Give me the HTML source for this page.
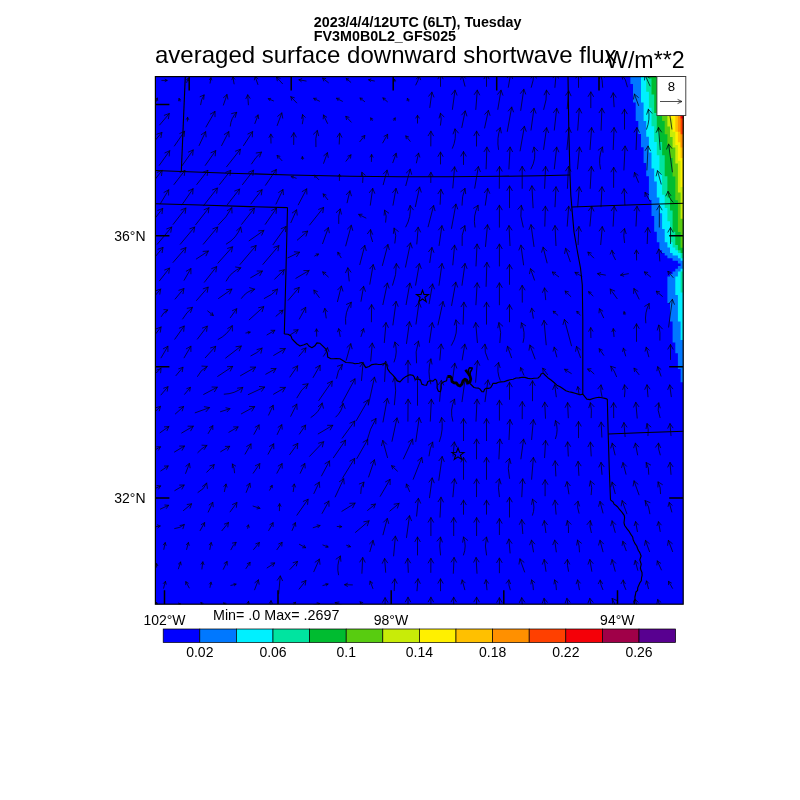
<!DOCTYPE html>
<html lang="en"><head><meta charset="utf-8"><title>averaged surface downward shortwave flux</title>
<style>html,body{margin:0;padding:0;background:#fff;}svg{display:block;}</style></head>
<body>
<svg width="800" height="800" viewBox="0 0 800 800" font-family="'Liberation Sans', Arial, sans-serif">
<rect x="0" y="0" width="800" height="800" fill="#ffffff"/>
<rect x="155.4" y="76.6" width="527.8000000000001" height="527.6" fill="#0000ff"/>
<clipPath id="mapclip"><rect x="155.4" y="76.6" width="527.8000000000001" height="527.6"/></clipPath>
<g clip-path="url(#mapclip)">
<polygon fill="#0078ff" points="690.0,74.0 630.4,74.0 630.4,76.0 630.4,78.6 630.4,78.6 630.4,81.3 630.4,81.3 630.4,83.9 633.0,83.9 633.0,86.6 633.0,86.6 633.0,89.2 633.0,89.2 633.0,91.8 633.0,91.8 633.0,94.5 633.0,94.5 633.0,97.1 633.0,97.1 633.0,99.8 633.0,99.8 633.0,102.4 635.7,102.4 635.7,105.0 635.7,105.0 635.7,107.7 635.7,107.7 635.7,110.3 635.7,110.3 635.7,113.0 635.7,113.0 635.7,115.6 635.7,115.6 635.7,118.2 635.7,118.2 635.7,120.9 638.3,120.9 638.3,123.5 638.3,123.5 638.3,126.2 638.3,126.2 638.3,128.8 638.3,128.8 638.3,131.4 638.3,131.4 638.3,134.1 641.0,134.1 641.0,136.7 641.0,136.7 641.0,139.4 641.0,139.4 641.0,142.0 641.0,142.0 641.0,144.6 641.0,144.6 641.0,147.3 643.6,147.3 643.6,149.9 643.6,149.9 643.6,152.6 643.6,152.6 643.6,155.2 643.6,155.2 643.6,157.8 643.6,157.8 643.6,160.5 643.6,160.5 643.6,163.1 646.2,163.1 646.2,165.8 646.2,165.8 646.2,168.4 646.2,168.4 646.2,171.0 646.2,171.0 646.2,173.7 646.2,173.7 646.2,176.3 648.9,176.3 648.9,179.0 648.9,179.0 648.9,181.6 648.9,181.6 648.9,184.2 648.9,184.2 648.9,186.9 648.9,186.9 648.9,189.5 648.9,189.5 648.9,192.2 648.9,192.2 648.9,194.8 648.9,194.8 648.9,197.4 648.9,197.4 648.9,200.1 651.5,200.1 651.5,202.7 651.5,202.7 651.5,205.4 651.5,205.4 651.5,208.0 651.5,208.0 651.5,210.6 651.5,210.6 651.5,213.3 651.5,213.3 651.5,215.9 654.2,215.9 654.2,218.6 654.2,218.6 654.2,221.2 654.2,221.2 654.2,223.8 654.2,223.8 654.2,226.5 654.2,226.5 654.2,229.1 654.2,229.1 654.2,231.8 656.8,231.8 656.8,234.4 656.8,234.4 656.8,237.0 656.8,237.0 656.8,239.7 656.8,239.7 656.8,242.3 659.4,242.3 659.4,245.0 659.4,245.0 659.4,247.6 659.4,247.6 659.4,250.2 662.1,250.2 662.1,252.9 664.7,252.9 664.7,255.5 667.4,255.5 667.4,258.2 672.6,258.2 672.6,260.8 677.9,260.8 677.9,263.4 680.6,263.4 680.6,266.1 677.9,266.1 677.9,268.7 675.3,268.7 675.3,271.4 672.6,271.4 672.6,274.0 670.0,274.0 670.0,276.6 667.4,276.6 667.4,279.3 667.4,279.3 667.4,281.9 667.4,281.9 667.4,284.6 667.4,284.6 667.4,287.2 667.4,287.2 667.4,289.8 667.4,289.8 667.4,292.5 667.4,292.5 667.4,295.1 667.4,295.1 667.4,297.8 667.4,297.8 667.4,300.4 667.4,300.4 667.4,303.0 670.0,303.0 670.0,305.7 670.0,305.7 670.0,308.3 670.0,308.3 670.0,311.0 670.0,311.0 670.0,313.6 670.0,313.6 670.0,316.2 670.0,316.2 670.0,318.9 670.0,318.9 670.0,321.5 672.6,321.5 672.6,324.2 672.6,324.2 672.6,326.8 672.6,326.8 672.6,329.4 672.6,329.4 672.6,332.1 672.6,332.1 672.6,334.7 672.6,334.7 672.6,337.4 672.6,337.4 672.6,340.0 672.6,340.0 672.6,342.6 675.3,342.6 675.3,345.3 675.3,345.3 675.3,347.9 675.3,347.9 675.3,350.6 675.3,350.6 675.3,353.2 677.9,353.2 677.9,355.8 677.9,355.8 677.9,358.5 677.9,358.5 677.9,361.1 677.9,361.1 677.9,363.8 677.9,363.8 677.9,366.4 677.9,366.4 677.9,369.0 680.6,369.0 680.6,371.7 680.6,371.7 680.6,374.3 680.6,374.3 680.6,377.0 680.6,377.0 680.6,379.6 680.6,379.6 680.6,382.2 683.2,382.2 683.2,384.9 683.2,384.9 683.2,387.5 683.2,387.5 683.2,390.2 690.0,390.2"/>
<polygon fill="#00f0ff" points="690.0,74.0 641.0,74.0 641.0,76.0 641.0,78.6 641.0,78.6 641.0,81.3 641.0,81.3 641.0,83.9 641.0,83.9 641.0,86.6 641.0,86.6 641.0,89.2 641.0,89.2 641.0,91.8 641.0,91.8 641.0,94.5 641.0,94.5 641.0,97.1 641.0,97.1 641.0,99.8 641.0,99.8 641.0,102.4 643.6,102.4 643.6,105.0 643.6,105.0 643.6,107.7 643.6,107.7 643.6,110.3 643.6,110.3 643.6,113.0 643.6,113.0 643.6,115.6 643.6,115.6 643.6,118.2 643.6,118.2 643.6,120.9 646.2,120.9 646.2,123.5 646.2,123.5 646.2,126.2 646.2,126.2 646.2,128.8 646.2,128.8 646.2,131.4 646.2,131.4 646.2,134.1 646.2,134.1 646.2,136.7 648.9,136.7 648.9,139.4 648.9,139.4 648.9,142.0 648.9,142.0 648.9,144.6 648.9,144.6 648.9,147.3 648.9,147.3 648.9,149.9 648.9,149.9 648.9,152.6 651.5,152.6 651.5,155.2 651.5,155.2 651.5,157.8 651.5,157.8 651.5,160.5 651.5,160.5 651.5,163.1 651.5,163.1 651.5,165.8 651.5,165.8 651.5,168.4 654.2,168.4 654.2,171.0 654.2,171.0 654.2,173.7 654.2,173.7 654.2,176.3 654.2,176.3 654.2,179.0 654.2,179.0 654.2,181.6 656.8,181.6 656.8,184.2 656.8,184.2 656.8,186.9 656.8,186.9 656.8,189.5 656.8,189.5 656.8,192.2 656.8,192.2 656.8,194.8 656.8,194.8 656.8,197.4 659.4,197.4 659.4,200.1 659.4,200.1 659.4,202.7 659.4,202.7 659.4,205.4 659.4,205.4 659.4,208.0 659.4,208.0 659.4,210.6 659.4,210.6 659.4,213.3 662.1,213.3 662.1,215.9 662.1,215.9 662.1,218.6 662.1,218.6 662.1,221.2 662.1,221.2 662.1,223.8 662.1,223.8 662.1,226.5 662.1,226.5 662.1,229.1 664.7,229.1 664.7,231.8 664.7,231.8 664.7,234.4 664.7,234.4 664.7,237.0 664.7,237.0 664.7,239.7 664.7,239.7 664.7,242.3 667.4,242.3 667.4,245.0 667.4,245.0 667.4,247.6 670.0,247.6 670.0,250.2 670.0,250.2 670.0,252.9 672.6,252.9 672.6,255.5 677.9,255.5 677.9,258.2 680.6,258.2 680.6,260.8 683.2,260.8 683.2,263.4 683.2,263.4 683.2,266.1 683.2,266.1 683.2,268.7 680.6,268.7 680.6,271.4 677.9,271.4 677.9,274.0 677.9,274.0 677.9,276.6 675.3,276.6 675.3,279.3 675.3,279.3 675.3,281.9 675.3,281.9 675.3,284.6 675.3,284.6 675.3,287.2 675.3,287.2 675.3,289.8 675.3,289.8 675.3,292.5 675.3,292.5 675.3,295.1 677.9,295.1 677.9,297.8 677.9,297.8 677.9,300.4 677.9,300.4 677.9,303.0 677.9,303.0 677.9,305.7 677.9,305.7 677.9,308.3 677.9,308.3 677.9,311.0 677.9,311.0 677.9,313.6 677.9,313.6 677.9,316.2 677.9,316.2 677.9,318.9 677.9,318.9 677.9,321.5 680.6,321.5 680.6,324.2 680.6,324.2 680.6,326.8 680.6,326.8 680.6,329.4 680.6,329.4 680.6,332.1 680.6,332.1 680.6,334.7 680.6,334.7 680.6,337.4 680.6,337.4 680.6,340.0 683.2,340.0 683.2,342.6 683.2,342.6 683.2,345.3 690.0,345.3"/>
<polygon fill="#00e4a0" points="690.0,74.0 646.2,74.0 646.2,76.0 646.2,78.6 646.2,78.6 646.2,81.3 646.2,81.3 646.2,83.9 646.2,83.9 646.2,86.6 646.2,86.6 646.2,89.2 646.2,89.2 646.2,91.8 648.9,91.8 648.9,94.5 648.9,94.5 648.9,97.1 648.9,97.1 648.9,99.8 648.9,99.8 648.9,102.4 648.9,102.4 648.9,105.0 648.9,105.0 648.9,107.7 651.5,107.7 651.5,110.3 651.5,110.3 651.5,113.0 651.5,113.0 651.5,115.6 651.5,115.6 651.5,118.2 651.5,118.2 651.5,120.9 651.5,120.9 651.5,123.5 651.5,123.5 651.5,126.2 654.2,126.2 654.2,128.8 654.2,128.8 654.2,131.4 654.2,131.4 654.2,134.1 654.2,134.1 654.2,136.7 654.2,136.7 654.2,139.4 654.2,139.4 654.2,142.0 656.8,142.0 656.8,144.6 656.8,144.6 656.8,147.3 656.8,147.3 656.8,149.9 656.8,149.9 656.8,152.6 656.8,152.6 656.8,155.2 659.4,155.2 659.4,157.8 659.4,157.8 659.4,160.5 659.4,160.5 659.4,163.1 659.4,163.1 659.4,165.8 659.4,165.8 659.4,168.4 659.4,168.4 659.4,171.0 659.4,171.0 659.4,173.7 662.1,173.7 662.1,176.3 662.1,176.3 662.1,179.0 662.1,179.0 662.1,181.6 662.1,181.6 662.1,184.2 662.1,184.2 662.1,186.9 662.1,186.9 662.1,189.5 662.1,189.5 662.1,192.2 662.1,192.2 662.1,194.8 664.7,194.8 664.7,197.4 664.7,197.4 664.7,200.1 664.7,200.1 664.7,202.7 664.7,202.7 664.7,205.4 664.7,205.4 664.7,208.0 667.4,208.0 667.4,210.6 667.4,210.6 667.4,213.3 667.4,213.3 667.4,215.9 667.4,215.9 667.4,218.6 667.4,218.6 667.4,221.2 670.0,221.2 670.0,223.8 670.0,223.8 670.0,226.5 670.0,226.5 670.0,229.1 670.0,229.1 670.0,231.8 670.0,231.8 670.0,234.4 670.0,234.4 670.0,237.0 670.0,237.0 670.0,239.7 670.0,239.7 670.0,242.3 672.6,242.3 672.6,245.0 672.6,245.0 672.6,247.6 675.3,247.6 675.3,250.2 677.9,250.2 677.9,252.9 680.6,252.9 680.6,255.5 680.6,255.5 680.6,258.2 683.2,258.2 683.2,260.8 683.2,260.8 683.2,263.4 683.2,263.4 683.2,266.1 683.2,266.1 683.2,268.7 683.2,268.7 683.2,271.4 680.6,271.4 680.6,274.0 680.6,274.0 680.6,276.6 680.6,276.6 680.6,279.3 680.6,279.3 680.6,281.9 680.6,281.9 680.6,284.6 680.6,284.6 680.6,287.2 680.6,287.2 680.6,289.8 680.6,289.8 680.6,292.5 683.2,292.5 683.2,295.1 690.0,295.1"/>
<polygon fill="#00bc30" points="690.0,74.0 648.9,74.0 648.9,76.0 648.9,78.6 651.5,78.6 651.5,81.3 651.5,81.3 651.5,83.9 651.5,83.9 651.5,86.6 651.5,86.6 651.5,89.2 651.5,89.2 651.5,91.8 651.5,91.8 651.5,94.5 654.2,94.5 654.2,97.1 654.2,97.1 654.2,99.8 654.2,99.8 654.2,102.4 654.2,102.4 654.2,105.0 654.2,105.0 654.2,107.7 654.2,107.7 654.2,110.3 654.2,110.3 654.2,113.0 656.8,113.0 656.8,115.6 656.8,115.6 656.8,118.2 656.8,118.2 656.8,120.9 656.8,120.9 656.8,123.5 656.8,123.5 656.8,126.2 656.8,126.2 656.8,128.8 656.8,128.8 656.8,131.4 659.4,131.4 659.4,134.1 659.4,134.1 659.4,136.7 659.4,136.7 659.4,139.4 659.4,139.4 659.4,142.0 662.1,142.0 662.1,144.6 662.1,144.6 662.1,147.3 662.1,147.3 662.1,149.9 662.1,149.9 662.1,152.6 662.1,152.6 662.1,155.2 664.7,155.2 664.7,157.8 664.7,157.8 664.7,160.5 664.7,160.5 664.7,163.1 664.7,163.1 664.7,165.8 664.7,165.8 664.7,168.4 664.7,168.4 664.7,171.0 664.7,171.0 664.7,173.7 664.7,173.7 664.7,176.3 667.4,176.3 667.4,179.0 667.4,179.0 667.4,181.6 667.4,181.6 667.4,184.2 667.4,184.2 667.4,186.9 667.4,186.9 667.4,189.5 667.4,189.5 667.4,192.2 667.4,192.2 667.4,194.8 667.4,194.8 667.4,197.4 670.0,197.4 670.0,200.1 670.0,200.1 670.0,202.7 670.0,202.7 670.0,205.4 670.0,205.4 670.0,208.0 670.0,208.0 670.0,210.6 672.6,210.6 672.6,213.3 672.6,213.3 672.6,215.9 672.6,215.9 672.6,218.6 672.6,218.6 672.6,221.2 672.6,221.2 672.6,223.8 672.6,223.8 672.6,226.5 672.6,226.5 672.6,229.1 672.6,229.1 672.6,231.8 675.3,231.8 675.3,234.4 675.3,234.4 675.3,237.0 675.3,237.0 675.3,239.7 675.3,239.7 675.3,242.3 675.3,242.3 675.3,245.0 677.9,245.0 677.9,247.6 677.9,247.6 677.9,250.2 680.6,250.2 680.6,252.9 683.2,252.9 683.2,255.5 683.2,255.5 683.2,258.2 690.0,258.2"/>
<polygon fill="#58cc10" points="690.0,98.0 659.4,98.0 659.4,100.0 659.4,102.6 659.4,102.6 659.4,105.3 662.1,105.3 662.1,107.9 662.1,107.9 662.1,110.6 662.1,110.6 662.1,113.2 662.1,113.2 662.1,115.8 662.1,115.8 662.1,118.5 662.1,118.5 662.1,121.1 664.7,121.1 664.7,123.8 664.7,123.8 664.7,126.4 664.7,126.4 664.7,129.0 664.7,129.0 664.7,131.7 664.7,131.7 664.7,134.3 667.4,134.3 667.4,137.0 667.4,137.0 667.4,139.6 667.4,139.6 667.4,142.2 667.4,142.2 667.4,144.9 670.0,144.9 670.0,147.5 670.0,147.5 670.0,150.2 670.0,150.2 670.0,152.8 670.0,152.8 670.0,155.4 670.0,155.4 670.0,158.1 672.6,158.1 672.6,160.7 672.6,160.7 672.6,163.4 672.6,163.4 672.6,166.0 672.6,166.0 672.6,168.6 672.6,168.6 672.6,171.3 672.6,171.3 672.6,173.9 672.6,173.9 672.6,176.6 675.3,176.6 675.3,179.2 675.3,179.2 675.3,181.8 675.3,181.8 675.3,184.5 675.3,184.5 675.3,187.1 675.3,187.1 675.3,189.8 675.3,189.8 675.3,192.4 675.3,192.4 675.3,195.0 675.3,195.0 675.3,197.7 675.3,197.7 675.3,200.3 677.9,200.3 677.9,203.0 677.9,203.0 677.9,205.6 677.9,205.6 677.9,208.2 677.9,208.2 677.9,210.9 677.9,210.9 677.9,213.5 677.9,213.5 677.9,216.2 677.9,216.2 677.9,218.8 677.9,218.8 677.9,221.4 677.9,221.4 677.9,224.1 677.9,224.1 677.9,226.7 677.9,226.7 677.9,229.4 677.9,229.4 677.9,232.0 680.6,232.0 680.6,234.6 680.6,234.6 680.6,237.3 680.6,237.3 680.6,239.9 680.6,239.9 680.6,242.6 680.6,242.6 680.6,245.2 680.6,245.2 680.6,247.8 683.2,247.8 683.2,250.5 690.0,250.5"/>
<polygon fill="#c8ec08" points="690.0,98.0 664.7,98.0 664.7,100.0 664.7,102.6 664.7,102.6 664.7,105.3 664.7,105.3 664.7,107.9 664.7,107.9 664.7,110.6 664.7,110.6 664.7,113.2 664.7,113.2 664.7,115.8 667.4,115.8 667.4,118.5 667.4,118.5 667.4,121.1 667.4,121.1 667.4,123.8 667.4,123.8 667.4,126.4 670.0,126.4 670.0,129.0 670.0,129.0 670.0,131.7 670.0,131.7 670.0,134.3 670.0,134.3 670.0,137.0 672.6,137.0 672.6,139.6 672.6,139.6 672.6,142.2 672.6,142.2 672.6,144.9 672.6,144.9 672.6,147.5 675.3,147.5 675.3,150.2 675.3,150.2 675.3,152.8 675.3,152.8 675.3,155.4 675.3,155.4 675.3,158.1 675.3,158.1 675.3,160.7 675.3,160.7 675.3,163.4 677.9,163.4 677.9,166.0 677.9,166.0 677.9,168.6 677.9,168.6 677.9,171.3 677.9,171.3 677.9,173.9 677.9,173.9 677.9,176.6 677.9,176.6 677.9,179.2 677.9,179.2 677.9,181.8 677.9,181.8 677.9,184.5 677.9,184.5 677.9,187.1 677.9,187.1 677.9,189.8 677.9,189.8 677.9,192.4 680.6,192.4 680.6,195.0 680.6,195.0 680.6,197.7 680.6,197.7 680.6,200.3 680.6,200.3 680.6,203.0 680.6,203.0 680.6,205.6 680.6,205.6 680.6,208.2 680.6,208.2 680.6,210.9 680.6,210.9 680.6,213.5 680.6,213.5 680.6,216.2 680.6,216.2 680.6,218.8 683.2,218.8 683.2,221.4 683.2,221.4 683.2,224.1 683.2,224.1 683.2,226.7 690.0,226.7"/>
<polygon fill="#fff000" points="690.0,98.0 667.4,98.0 667.4,100.0 667.4,102.6 670.0,102.6 670.0,105.3 670.0,105.3 670.0,107.9 670.0,107.9 670.0,110.6 670.0,110.6 670.0,113.2 670.0,113.2 670.0,115.8 670.0,115.8 670.0,118.5 672.6,118.5 672.6,121.1 672.6,121.1 672.6,123.8 672.6,123.8 672.6,126.4 672.6,126.4 672.6,129.0 672.6,129.0 672.6,131.7 675.3,131.7 675.3,134.3 675.3,134.3 675.3,137.0 675.3,137.0 675.3,139.6 675.3,139.6 675.3,142.2 675.3,142.2 675.3,144.9 677.9,144.9 677.9,147.5 677.9,147.5 677.9,150.2 677.9,150.2 677.9,152.8 677.9,152.8 677.9,155.4 677.9,155.4 677.9,158.1 677.9,158.1 677.9,160.7 680.6,160.7 680.6,163.4 680.6,163.4 680.6,166.0 680.6,166.0 680.6,168.6 680.6,168.6 680.6,171.3 680.6,171.3 680.6,173.9 680.6,173.9 680.6,176.6 680.6,176.6 680.6,179.2 680.6,179.2 680.6,181.8 680.6,181.8 680.6,184.5 680.6,184.5 680.6,187.1 683.2,187.1 683.2,189.8 683.2,189.8 683.2,192.4 683.2,192.4 683.2,195.0 683.2,195.0 683.2,197.7 683.2,197.7 683.2,200.3 690.0,200.3"/>
<polygon fill="#ffc000" points="690.0,98.0 670.0,98.0 670.0,100.0 670.0,102.6 672.6,102.6 672.6,105.3 672.6,105.3 672.6,107.9 672.6,107.9 672.6,110.6 672.6,110.6 672.6,113.2 672.6,113.2 672.6,115.8 675.3,115.8 675.3,118.5 675.3,118.5 675.3,121.1 675.3,121.1 675.3,123.8 675.3,123.8 675.3,126.4 675.3,126.4 675.3,129.0 675.3,129.0 675.3,131.7 677.9,131.7 677.9,134.3 677.9,134.3 677.9,137.0 677.9,137.0 677.9,139.6 677.9,139.6 677.9,142.2 680.6,142.2 680.6,144.9 680.6,144.9 680.6,147.5 680.6,147.5 680.6,150.2 680.6,150.2 680.6,152.8 680.6,152.8 680.6,155.4 680.6,155.4 680.6,158.1 683.2,158.1 683.2,160.7 683.2,160.7 683.2,163.4 683.2,163.4 683.2,166.0 683.2,166.0 683.2,168.6 683.2,168.6 683.2,171.3 690.0,171.3"/>
<polygon fill="#ff9000" points="690.0,98.0 675.3,98.0 675.3,100.0 675.3,102.6 675.3,102.6 675.3,105.3 675.3,105.3 675.3,107.9 675.3,107.9 675.3,110.6 675.3,110.6 675.3,113.2 675.3,113.2 675.3,115.8 677.9,115.8 677.9,118.5 677.9,118.5 677.9,121.1 677.9,121.1 677.9,123.8 677.9,123.8 677.9,126.4 677.9,126.4 677.9,129.0 677.9,129.0 677.9,131.7 680.6,131.7 680.6,134.3 680.6,134.3 680.6,137.0 680.6,137.0 680.6,139.6 680.6,139.6 680.6,142.2 680.6,142.2 680.6,144.9 680.6,144.9 680.6,147.5 683.2,147.5 683.2,150.2 683.2,150.2 683.2,152.8 683.2,152.8 683.2,155.4 690.0,155.4"/>
<polygon fill="#ff4000" points="690.0,98.0 677.9,98.0 677.9,100.0 677.9,102.6 677.9,102.6 677.9,105.3 677.9,105.3 677.9,107.9 677.9,107.9 677.9,110.6 677.9,110.6 677.9,113.2 677.9,113.2 677.9,115.8 680.6,115.8 680.6,118.5 680.6,118.5 680.6,121.1 680.6,121.1 680.6,123.8 680.6,123.8 680.6,126.4 680.6,126.4 680.6,129.0 680.6,129.0 680.6,131.7 680.6,131.7 680.6,134.3 683.2,134.3 683.2,137.0 683.2,137.0 683.2,139.6 683.2,139.6 683.2,142.2 690.0,142.2"/>
<polygon fill="#f40008" points="690.0,98.0 680.6,98.0 680.6,100.0 680.6,102.6 680.6,102.6 680.6,105.3 680.6,105.3 680.6,107.9 680.6,107.9 680.6,110.6 680.6,110.6 680.6,113.2 680.6,113.2 680.6,115.8 680.6,115.8 680.6,118.5 683.2,118.5 683.2,121.1 683.2,121.1 683.2,123.8 683.2,123.8 683.2,126.4 683.2,126.4 683.2,129.0 690.0,129.0"/>
<polyline fill="none" stroke="#000" stroke-width="1.1" stroke-linejoin="round" points="185.3,76 181.3,171.5"/>
<polyline fill="none" stroke="#000" stroke-width="1.1" stroke-linejoin="round" points="155,170.5 181.3,171.5 230,173.2 290,175 350,176.3 400,176.8 450,176.8 500,176.3 540,175.7 570,175"/>
<polyline fill="none" stroke="#000" stroke-width="1.1" stroke-linejoin="round" points="155,203.7 200,205 250,206.6 287.5,207.6"/>
<polyline fill="none" stroke="#000" stroke-width="1.1" stroke-linejoin="round" points="287.5,207.6 286,270 284.3,334"/>
<polyline fill="none" stroke="#000" stroke-width="1.15" stroke-linejoin="round" points="284.3,334 288.0,334.3 291.0,336.0 292.0,338.8 294.0,341.0 297.0,344.0 300.0,346.0 304.0,344.8 307.0,343.5 308.9,346.0 311.9,347.7 314.9,345.8 316.9,342.9 320.0,343.3 322.9,346.1 325.9,349.1 327.3,352.9 327.7,357.1 330.9,358.7 333.5,358.7 336.0,358.6 340.0,358.8 343.2,360.8 346.0,362.5 350.0,362.7 352.6,363.0 355.0,363.8 359.0,363.2 362.0,362.5 364.0,365.0 365.8,367.6 369.0,366.5 372.0,364.6 376.0,364.0 378.5,364.5 381.0,364.5 385.0,363.4 386.8,365.2 387.7,369.1 389.8,372.1 392.9,375.1 395.1,377.9 397.1,380.9 400.0,381.9 402.8,378.8 405.1,377.1 408.0,375.4 410.1,374.7 413.0,375.4 414.3,377.2 414.8,379.1 418.0,379.2 420.5,379.8 421.8,384.1 424.0,385.0 426.5,385.3 427.9,381.5 429.9,380.8 433.0,381.1 435.1,379.1 436.6,380.4 437.2,384.0 437.1,388.0 438.3,391.1 440.5,391.7 441.3,387.9 441.1,385.8 441.3,383.5 443.9,381.8 446.6,380.7 447.3,376.5"/>
<polyline fill="none" stroke="#000" stroke-width="2.8" stroke-linejoin="round" points="447.5,376.5 450,376.3 451.5,377.8 452,381.5 454,382.8 456.5,383 458,385.3 460,386 462,384 463,380.8 465,379.2 466.5,380 468,383 470,382 470.8,379 470,376 468.3,373.5 466.3,371 465.8,369.6"/>
<polyline fill="none" stroke="#000" stroke-width="1.5" stroke-linejoin="round" points="470,376 470.3,372 471.8,369.6 472.2,368 469.5,367.8 468.6,369.5 468.3,373.5"/>
<polyline fill="none" stroke="#000" stroke-width="1.15" stroke-linejoin="round" points="470,383.5 472.0,385.5 474.0,387.5 476.1,388.0 478.5,388.1 480.2,389.3 481.9,391.6 483.6,391.8 484.5,389.5 485.9,388.4 488.5,388.4 490.6,387.8 492.2,385.1 492.9,383.4 496.0,383.4 498.5,382.3 501.0,381.9 504.0,381.7 507.0,380.6 510.0,379.8 513.1,379.3 516.0,378.0 519.0,377.9 522.1,377.2 525.0,377.4 528.0,378.4 531.0,378.7 534.0,378.3 538.0,378.0 539.9,376.4 541.1,374.0 543.0,372.9 545.0,375.0 547.8,377.7 551.0,380.0 554.0,382.5 556.9,385.2 560.1,386.8 563.1,388.8 565.9,390.7 568.9,391.7 572.0,392.4 575.1,393.3 578.0,394.1 580.4,394.8 582.8,394.1 584.8,396.7 586.8,399.1 590.0,399.6 593.0,398.5 596.0,397.8 599.0,397.2 602.0,397.8 605.0,398.4 607.3,399.1"/>
<polyline fill="none" stroke="#000" stroke-width="1.1" stroke-linejoin="round" points="568,76 568.8,130 570,175 570.8,195 571.8,207 574,232 577.5,252 580.5,268 582.3,285 582.8,320 582.8,394.3"/>
<polyline fill="none" stroke="#000" stroke-width="1.1" stroke-linejoin="round" points="571.8,207 620,205.3 684,203.2"/>
<polyline fill="none" stroke="#000" stroke-width="1.1" stroke-linejoin="round" points="607.3,399 608.2,434 609.3,470 610.5,500"/>
<polyline fill="none" stroke="#000" stroke-width="1.1" stroke-linejoin="round" points="608.2,434 640,432.8 684,431.2"/>
<polyline fill="none" stroke="#000" stroke-width="1.15" stroke-linejoin="round" points="610.5,500 613.1,501.9 614.1,504.1 616.0,505.5 617.7,507.0 619.1,508.9 621.9,512.1 624.2,515.4 624.6,517.7 624.3,520.0 624.0,522.8 624.7,525.5 627.1,528.9 629.3,531.7 631.2,534.9 632.7,537.0 633.1,539.4 634.1,541.7 635.2,543.9 636.7,546.0 637.6,548.5 638.4,550.5 639.7,552.4 641.1,556.0 639.8,559.9 641.2,564.1 640.4,568.0 641.0,570.3 642.0,572.5 642.1,575.3 641.5,578.0 641.3,580.7 639.8,582.9 638.7,585.4 637.7,587.9 637.6,590.3 635.9,592.0 635.5,594.5 634.9,597.0 635.0,599.4 633.8,601.6 634.6,604.0"/>
<polygon fill="none" stroke="#000" stroke-width="1.1" points="422.5,290.2 424.0,294.5 428.5,294.6 424.9,297.3 426.2,301.6 422.5,299.0 418.8,301.6 420.1,297.3 416.5,294.6 421.0,294.5"/>
<polygon fill="none" stroke="#000" stroke-width="1.1" points="458.0,448.0 459.5,452.3 464.0,452.4 460.4,455.1 461.7,459.4 458.0,456.8 454.3,459.4 455.6,455.1 452.0,452.4 456.5,452.3"/>
<path fill="none" stroke="#000010" stroke-opacity="0.92" stroke-width="0.8" stroke-linecap="round" stroke-linejoin="miter" d="M161.8,80.4L167.2,80.4M165.1,79.2L167.2,80.4L165.1,81.6M186.7,82.5L188.3,78.3M186.4,79.8L188.3,78.3L188.7,80.7M210.1,83.1L210.9,77.7M209.4,79.6L210.9,77.7L211.8,80.0M234.1,83.9L232.9,76.9M231.9,79.7L232.9,76.9L234.8,79.2M257.9,84.5L255.1,76.3M254.4,79.9L255.1,76.3L257.9,78.7M282.5,83.7L276.5,77.1M277.3,80.8L276.5,77.1L280.1,78.2M306.1,81.0L298.9,79.8M301.3,81.7L298.9,79.8L301.8,78.7M328.4,82.7L322.6,78.1M323.7,81.0L322.6,78.1L325.7,78.5M350.8,82.3L346.2,78.5M347.1,80.8L346.2,78.5L348.7,78.9M374.4,81.0L368.6,79.8M370.5,81.5L368.6,79.8L370.9,79.0M395.1,81.8L393.9,79.0M393.6,81.4L393.9,79.0L395.8,80.5M415.8,85.0Q418.3,80.7 419.2,75.8M416.5,78.9L419.2,75.8L420.6,79.7M440.5,86.4L440.5,74.4M438.0,78.8L440.5,74.4L443.0,78.8M465.0,86.2L462.0,74.6M460.7,79.4L462.0,74.6L465.5,78.2M486.5,86.4L486.5,74.4M484.0,78.8L486.5,74.4L489.0,78.8M508.3,87.3L510.7,73.5M507.3,77.6L510.7,73.5L512.5,78.5M531.3,87.3Q533.7,80.6 533.7,73.5M531.0,78.1L533.7,73.5L536.3,78.1M554.9,87.4L556.1,73.4M553.1,77.8L556.1,73.4L558.4,78.2M578.5,87.4L578.5,73.4M575.9,78.0L578.5,73.4L581.2,78.0M602.7,87.3Q602.8,80.2 600.3,73.5M599.5,78.7L600.3,73.5L604.4,76.9M627.4,86.8Q626.4,79.5 621.6,74.0M622.6,79.2L621.6,74.0L626.6,75.8M650.0,85.9L645.0,74.9M644.5,80.0L645.0,74.9L649.1,77.8M671.5,86.3Q669.0,80.7 669.5,74.5M666.6,78.7L669.5,74.5L671.7,79.0M156.0,101.5L157.3,98.1M155.4,99.7L157.3,98.1L157.7,100.5M180.0,101.2L179.0,98.4M178.6,100.8L179.0,98.4L180.8,100.0M200.6,104.7Q201.0,99.3 204.1,94.9M200.1,96.7L204.1,94.9L203.7,99.3M223.4,105.1L227.0,94.5M223.5,97.6L227.0,94.5L227.9,99.1M248.4,104.8L247.7,94.8M245.9,98.6L247.7,94.8L250.1,98.3M273.5,100.9L268.3,98.7M269.8,100.6L268.3,98.7L270.7,98.4M296.7,102.9L290.8,96.7M291.6,100.2L290.8,96.7L294.3,97.7M319.5,101.2L313.7,98.4M315.2,100.6L313.7,98.4L316.4,98.2M342.4,101.3L336.5,98.3M338.0,100.6L336.5,98.3L339.3,98.2M364.6,101.6L360.0,98.0M360.9,100.3L360.0,98.0L362.4,98.3M387.4,101.7L382.9,97.9M383.8,100.2L382.9,97.9L385.3,98.4M408.6,101.2L407.4,98.4M407.1,100.7L407.4,98.4L409.3,99.8M429.8,107.5L431.9,92.1M428.7,96.2L431.9,92.1L433.9,97.0M452.4,109.4L455.0,90.2M451.7,94.4L455.0,90.2L457.0,95.1M475.8,109.5L477.3,90.1M474.3,94.5L477.3,90.1L479.6,94.9M497.8,109.4L501.0,90.2M497.6,94.3L501.0,90.2L502.9,95.2M520.7,110.4L523.8,89.2M520.5,93.4L523.8,89.2L525.7,94.1M543.7,109.5Q547.0,100.1 546.5,90.1M544.1,94.9L546.5,90.1L549.4,94.6M567.2,108.7L568.7,90.9M565.7,95.3L568.7,90.9L571.0,95.8M590.8,107.7L590.8,91.9M588.2,96.4L590.8,91.9L593.5,96.5M614.1,106.8L613.2,92.8M610.9,97.5L613.2,92.8L616.1,97.2M638.6,105.5L634.4,94.1M633.5,99.1L634.4,94.1L638.3,97.4M660.1,106.7Q661.0,99.6 658.6,92.9M657.7,98.2L658.6,92.9L662.7,96.4M159.7,124.9L169.3,113.5M164.3,115.3L169.3,113.5L168.4,118.7M187.4,121.1L187.6,117.3M186.3,119.3L187.6,117.3L188.7,119.5M206.0,127.0L215.0,111.4M210.4,114.1L215.0,111.4L215.0,116.7M230.3,126.1Q230.8,118.0 236.7,112.3M231.6,113.6L236.7,112.3L235.2,117.4M254.9,123.5L258.1,114.9M255.1,117.4L258.1,114.9L258.7,118.7M277.2,125.5L281.8,112.9M277.7,116.3L281.8,112.9L282.7,118.1M302.4,123.8Q303.9,119.2 302.6,114.6M301.7,118.4L302.6,114.6L305.3,117.3M327.5,123.4L323.5,115.0M323.2,118.9L323.5,115.0L326.7,117.2M351.2,122.1L345.8,116.3M346.5,119.6L345.8,116.3L349.0,117.3M372.3,120.5L370.7,117.9M370.7,120.3L370.7,117.9L372.8,119.0M393.8,120.5L395.2,117.9M393.2,119.1L395.2,117.9L395.3,120.3M417.5,123.1L417.5,115.3M415.8,118.1L417.5,115.3L419.2,118.1M440.5,125.2Q442.0,119.2 440.5,113.2M439.1,118.0L440.5,113.2L444.0,116.9M461.8,127.5L465.2,110.9M461.7,114.9L465.2,110.9L466.9,116.0M484.6,128.0L488.4,110.4M484.8,114.3L488.4,110.4L490.0,115.4M507.3,131.4L511.7,107.0M508.3,111.0L511.7,107.0L513.5,111.9M531.0,130.1L534.0,108.3M530.8,112.4L534.0,108.3L536.0,113.2M554.3,130.1L556.7,108.3M553.5,112.5L556.7,108.3L558.8,113.1M577.7,130.2L579.3,108.2M576.3,112.6L579.3,108.2L581.6,113.0M601.1,130.2L601.9,108.2M599.1,112.7L601.9,108.2L604.4,112.9M624.5,129.2L624.5,109.2M621.9,113.8L624.5,109.2L627.2,113.8M646.6,129.2Q650.4,119.4 648.4,109.2M646.7,114.3L648.4,109.2L651.9,113.2M671.9,129.1L669.1,109.3M667.1,114.2L669.1,109.3L672.4,113.5M151.4,144.8L161.9,132.4M156.9,134.2L161.9,132.4L160.9,137.6M174.4,146.0L184.6,131.2M179.8,133.5L184.6,131.2L184.1,136.5M199.1,145.5L205.6,131.7M201.3,134.7L205.6,131.7L206.1,136.9M221.6,145.6L228.8,131.6M224.3,134.5L228.8,131.6L229.1,136.9M243.5,145.6L252.6,131.6M247.9,134.0L252.6,131.6L252.3,136.9M271.0,143.1L270.8,134.1M269.0,137.4L270.8,134.1L272.8,137.3M293.7,144.5L293.8,132.7M291.3,137.0L293.8,132.7L296.2,137.0M315.9,146.7Q315.0,138.5 317.3,130.5M313.5,134.2L317.3,130.5L318.6,135.7M339.2,144.1L339.7,133.1M337.2,137.0L339.7,133.1L341.8,137.2M359.8,141.7L364.8,135.5M361.7,136.7L364.8,135.5L364.3,138.8M382.7,142.9L387.6,134.3M384.0,136.4L387.6,134.3L387.6,138.5M410.2,141.3L405.8,135.9M406.3,138.8L405.8,135.9L408.6,136.9M430.8,146.0L430.9,131.2M428.2,135.7L430.9,131.2L433.5,135.8M452.4,148.3Q456.7,139.0 455.0,128.9M453.1,133.9L455.0,128.9L458.4,133.0M476.5,146.1L476.6,131.1M473.9,135.7L476.6,131.1L479.2,135.7M498.5,149.5Q496.5,138.3 500.3,127.7M496.3,131.1L500.3,127.7L501.3,132.9M520.1,150.9L524.4,126.3M521.0,130.4L524.4,126.3L526.2,131.3M543.6,149.5L546.6,127.7M543.4,131.8L546.6,127.7L548.6,132.6M566.9,149.6L569.0,127.6M565.9,132.0L569.0,127.6L571.2,132.5M590.0,149.6L591.6,127.6M588.6,132.0L591.6,127.6L593.9,132.4M613.2,149.6L614.1,127.6M611.2,132.1L614.1,127.6L616.5,132.3M636.1,149.6L636.9,127.6M634.1,132.1L636.9,127.6L639.4,132.3M660.2,149.6L658.5,127.6M656.2,132.4L658.5,127.6L661.5,132.0M159.3,165.3L169.7,150.7M164.9,152.9L169.7,150.7L169.2,156.0M181.8,166.1L193.2,149.9M188.4,152.1L193.2,149.9L192.7,155.2M205.3,165.4L215.7,150.6M210.9,152.8L215.7,150.6L215.2,155.9M226.6,166.8L240.4,149.2M235.5,151.2L240.4,149.2L239.6,154.4M251.5,163.9Q255.4,157.1 261.5,152.1M256.2,153.0L261.5,152.1L259.6,157.0M281.9,160.6L277.1,155.4M277.8,158.3L277.1,155.4L279.9,156.3M302.6,159.4L302.4,156.6M301.3,158.7L302.4,156.6L303.7,158.6M323.6,163.3L327.4,152.7M323.8,155.7L327.4,152.7L328.2,157.4M346.0,161.2L351.0,154.8M347.9,156.1L351.0,154.8L350.5,158.2M371.4,161.5L371.6,154.5M370.1,157.0L371.6,154.5L373.0,157.1M392.8,162.7L396.2,153.3M393.0,156.0L396.2,153.3L396.9,157.4M416.4,162.9L418.6,153.1M415.7,156.2L418.6,153.1L419.8,157.1M440.5,164.0L440.5,152.0M438.0,156.4L440.5,152.0L443.0,156.4M463.5,164.5L463.5,151.5M460.9,156.1L463.5,151.5L466.1,156.1M486.1,168.9L486.9,147.1M484.1,151.6L486.9,147.1L489.4,151.8M508.9,169.0L510.1,147.0M507.2,151.5L510.1,147.0L512.5,151.7M531.0,168.9Q536.8,158.6 534.0,147.1M532.5,152.2L534.0,147.1L537.7,150.9M554.3,168.9L556.7,147.1M553.5,151.3L556.7,147.1L558.8,151.9M577.5,169.0L579.5,147.0M576.4,151.4L579.5,147.0L581.7,151.8M600.5,169.0Q597.8,157.7 602.5,147.0M598.2,150.2L602.5,147.0L603.0,152.3M623.9,170.0L625.1,146.0M622.2,150.5L625.1,146.0L627.5,150.8M646.9,170.0L648.1,146.0M645.2,150.5L648.1,146.0L650.5,150.7M672.4,171.9L668.6,144.1M666.6,149.1L668.6,144.1L671.8,148.3M151.1,184.5L162.2,170.3M157.3,172.3L162.2,170.3L161.5,175.6M174.0,184.5L185.0,170.3M180.1,172.3L185.0,170.3L184.3,175.5M196.8,184.5L207.9,170.3M203.0,172.2L207.9,170.3L207.2,175.5M219.6,184.5L230.8,170.3M225.8,172.3L230.8,170.3L230.0,175.5M242.5,184.6L253.6,170.2M248.7,172.2L253.6,170.2L252.9,175.4M265.5,185.3L276.3,169.5M271.5,171.8L276.3,169.5L275.9,174.8M296.2,178.2L291.3,176.6M292.9,178.4L291.3,176.6L293.6,176.1M318.8,179.7L314.4,175.1M315.0,177.7L314.4,175.1L317.0,175.9M339.4,180.5L339.5,174.3M338.1,176.5L339.5,174.3L340.8,176.5M362.7,182.5Q363.7,177.3 361.9,172.3M361.2,176.5L361.9,172.3L365.2,175.1M383.2,184.7L387.1,170.1M383.3,173.9L387.1,170.1L388.5,175.2M405.8,185.6L410.2,169.2M406.4,172.9L410.2,169.2L411.6,174.3M430.8,182.5L430.9,172.3M428.7,176.0L430.9,172.3L433.0,176.0M452.8,188.0L454.6,166.8M451.6,171.1L454.6,166.8L456.9,171.6M474.7,188.2L478.4,166.6M475.0,170.7L478.4,166.6L480.3,171.6M499.3,188.3L499.5,166.5M496.8,171.0L499.5,166.5L502.1,171.1M522.2,188.4L522.2,166.4M519.6,171.0L522.2,166.4L524.9,171.0M544.6,188.4L545.6,166.4M542.8,170.9L545.6,166.4L548.1,171.1M567.4,188.4L568.5,166.4M565.6,170.9L568.5,166.4L570.9,171.2M590.2,188.4L591.4,166.4M588.5,170.9L591.4,166.4L593.8,171.2M613.6,187.4L613.7,167.4M611.0,171.9L613.7,167.4L616.3,172.0M638.5,182.3L634.5,172.5M633.9,176.9L634.5,172.5L638.0,175.2M661.2,184.1L657.5,170.7M656.2,175.9L657.5,170.7L661.3,174.5M160.3,203.8L168.7,189.8M164.0,192.4L168.7,189.8L168.6,195.1M181.9,204.9L193.1,188.7M188.3,191.0L193.1,188.7L192.7,194.0M203.6,205.6L217.4,188.0M212.5,189.9L217.4,188.0L216.7,193.2M227.4,204.6L239.6,189.0M234.7,191.0L239.6,189.0L238.8,194.3M250.9,203.9L262.1,189.7M257.1,191.7L262.1,189.7L261.3,194.9M276.0,204.1L283.0,189.5M278.6,192.5L283.0,189.5L283.4,194.7M298.3,204.8L306.7,188.8M302.2,191.6L306.7,188.8L306.9,194.1M327.8,199.7L323.2,193.9M323.6,197.0L323.2,193.9L326.1,195.0M347.1,202.8L349.9,190.8M346.4,194.6L349.9,190.8L351.4,195.8M370.3,205.2L372.7,188.4M369.4,192.6L372.7,188.4L374.7,193.3M393.0,205.2L396.0,188.4M392.6,192.5L396.0,188.4L397.8,193.4M415.4,206.6L419.6,187.0M416.0,191.0L419.6,187.0L421.2,192.1M440.1,204.3L440.9,189.3M438.0,193.7L440.9,189.3L443.3,194.0M462.0,205.2Q461.7,196.5 465.0,188.4M460.8,191.7L465.0,188.4L465.7,193.7M485.3,205.2L487.7,188.4M484.4,192.6L487.7,188.4L489.7,193.3M509.5,207.7L509.5,185.9M506.9,190.4L509.5,185.9L512.2,190.5M533.1,207.8L531.9,185.8M529.5,190.5L531.9,185.8L534.8,190.3M555.0,206.8L556.0,186.8M553.1,191.2L556.0,186.8L558.4,191.5M577.7,206.8L579.3,186.8M576.3,191.2L579.3,186.8L581.6,191.6M601.0,206.8L602.0,186.8M599.1,191.3L602.0,186.8L604.4,191.5M624.9,204.8L624.1,188.8M621.7,193.5L624.1,188.8L627.0,193.2M650.0,201.2L645.0,192.4M645.0,196.6L645.0,192.4L648.7,194.6M673.0,202.2Q668.4,197.8 668.0,191.4M665.8,195.9L668.0,191.4L670.8,195.5M150.6,224.0L162.7,208.4M157.8,210.4L162.7,208.4L162.0,213.6M173.1,224.4L185.9,208.0M181.0,210.0L185.9,208.0L185.2,213.3M195.7,224.7L209.0,207.7M204.1,209.7L209.0,207.7L208.3,212.9M218.6,224.7Q226.7,217.4 231.8,207.7M227.3,210.6L231.8,207.7L232.0,213.0M241.7,224.3L254.4,208.1M249.5,210.1L254.4,208.1L253.6,213.4M265.3,224.3L276.5,208.1M271.7,210.4L276.5,208.1L276.1,213.4M290.9,222.6L296.6,209.8M292.3,212.9L296.6,209.8L297.2,215.1M309.6,225.0L323.6,207.4M318.6,209.4L323.6,207.4L322.8,212.7M338.7,223.5Q338.0,216.1 340.2,208.9M336.3,212.5L340.2,208.9L341.4,214.1M365.9,218.0L358.7,214.4M360.6,217.2L358.7,214.4L362.1,214.2M385.7,222.2Q387.3,216.0 384.6,210.2M384.1,215.2L384.6,210.2L388.7,213.1M405.8,226.9Q411.4,216.9 410.2,205.5M408.1,210.3L410.2,205.5L413.3,209.8M428.1,226.8L433.6,205.6M429.9,209.4L433.6,205.6L435.0,210.7M451.5,228.4L455.9,204.0M452.5,208.1L455.9,204.0L457.7,209.0M475.0,227.1Q472.7,215.7 478.1,205.3M473.6,208.2L478.1,205.3L478.3,210.6M499.4,227.2L499.4,205.2M496.8,209.8L499.4,205.2L502.1,209.8M523.2,227.1Q519.4,216.4 521.3,205.3M517.9,209.3L521.3,205.3L523.1,210.2M544.8,226.2L545.4,206.2M542.6,210.7L545.4,206.2L547.9,210.8M567.2,226.2L568.7,206.2M565.7,210.6L568.7,206.2L571.0,211.0M589.9,226.1L591.7,206.3M588.6,210.6L591.7,206.3L593.9,211.1M613.1,226.2L614.2,206.2M611.3,210.7L614.2,206.2L616.6,211.0M636.0,226.1L637.0,206.3M634.1,210.7L637.0,206.3L639.4,211.0M659.3,227.1L659.4,205.3M656.7,209.9L659.4,205.3L662.0,209.9M157.3,244.2L171.7,227.0M166.7,228.9L171.7,227.0L170.8,232.3M180.3,244.2L194.7,227.0M189.8,228.8L194.7,227.0L193.8,232.2M203.3,244.2L217.7,227.0M212.8,228.8L217.7,227.0L216.8,232.2M226.3,244.1Q236.7,238.3 240.7,227.1M236.7,230.5L240.7,227.1L241.7,232.3M249.1,240.8L263.9,230.4M258.6,230.9L263.9,230.4L261.7,235.2M273.0,244.7L286.0,226.5M281.2,228.7L286.0,226.5L285.5,231.7M297.3,240.1L307.7,231.1M302.5,232.1L307.7,231.1L306.0,236.1M322.6,243.6L328.4,227.6M324.3,231.0L328.4,227.6L329.3,232.8M345.7,245.9L351.3,225.3M347.5,229.0L351.3,225.3L352.7,230.4M372.5,241.6Q369.8,235.9 370.5,229.6M367.5,233.7L370.5,229.6L372.6,234.3M394.9,243.1Q397.1,235.5 394.1,228.1M393.4,233.4L394.1,228.1L398.3,231.4M416.8,244.0L418.2,227.2M415.2,231.5L418.2,227.2L420.5,232.0M439.1,245.5L441.9,225.7M438.6,229.9L441.9,225.7L443.9,230.6M462.1,245.5Q460.8,235.2 464.9,225.7M460.6,228.9L464.9,225.7L465.5,231.0M485.5,246.5L487.5,224.7M484.4,229.0L487.5,224.7L489.7,229.5M510.0,245.6L509.0,225.6M506.6,230.3L509.0,225.6L511.9,230.0M534.0,246.5L531.0,224.7M529.0,229.6L531.0,224.7L534.2,228.9M556.0,245.6L555.0,225.6M552.6,230.3L555.0,225.6L557.9,230.0M578.1,244.7L578.9,226.5M576.1,231.0L578.9,226.5L581.3,231.3M600.7,244.6L602.3,226.6M599.2,231.0L602.3,226.6L604.5,231.4M624.5,242.6Q623.0,235.6 624.5,228.6M620.9,232.5L624.5,228.6L626.1,233.6M647.2,243.6L647.8,227.6M645.0,232.1L647.8,227.6L650.3,232.3M670.5,243.6L670.5,227.6M667.9,232.2L670.5,227.6L673.1,232.2M150.3,262.6L163.0,247.4M158.0,249.2L163.0,247.4L162.1,252.6M173.1,262.4L185.9,247.6M180.9,249.4L185.9,247.6L184.9,252.8M196.3,259.0L208.4,251.0M203.1,251.4L208.4,251.0L206.0,255.8M217.9,263.2L232.5,246.8M227.5,248.4L232.5,246.8L231.5,251.9M240.0,264.5L256.1,245.5M251.1,247.2L256.1,245.5L255.2,250.7M262.9,264.4L278.9,245.6M273.9,247.3L278.9,245.6L278.0,250.8M287.9,257.8L299.6,252.2M294.3,251.8L299.6,252.2L296.6,256.6M314.7,256.0L318.5,254.0M316.1,253.9L318.5,254.0L317.3,256.0M341.1,257.7L337.8,252.3M337.9,255.0L337.8,252.3L340.1,253.6M359.8,264.6L364.8,245.4M361.1,249.2L364.8,245.4L366.2,250.5M382.4,265.5L387.9,244.5M384.2,248.2L387.9,244.5L389.3,249.6M405.5,267.1L410.5,242.9M407.0,246.8L410.5,242.9L412.2,247.9M429.8,262.5L431.9,247.5M428.6,251.7L431.9,247.5L433.9,252.4M452.8,264.9L454.6,245.1M451.5,249.5L454.6,245.1L456.8,249.9M476.0,266.0L477.1,244.0M474.3,248.5L477.1,244.0L479.5,248.8M499.4,266.0L499.4,244.0M496.8,248.6L499.4,244.0L502.1,248.6M523.6,264.9L520.9,245.1M518.9,250.0L520.9,245.1L524.1,249.3M547.1,262.9L543.1,247.1M541.6,252.2L543.1,247.1L546.8,250.9M570.3,261.7L565.6,248.3M564.6,253.5L565.6,248.3L569.6,251.7M593.7,257.9L587.9,252.1M588.8,255.4L587.9,252.1L591.2,253.0M615.4,259.7Q612.5,255.4 611.9,250.3M610.2,254.1L611.9,250.3L614.4,253.7M636.6,260.0L636.4,250.0M634.4,253.7L636.4,250.0L638.6,253.6M659.8,261.0L658.9,249.0M656.7,253.6L658.9,249.0L661.7,253.2M159.5,280.8L169.5,268.0M164.6,270.0L169.5,268.0L168.8,273.3M184.1,280.3L190.9,268.5M186.3,271.2L190.9,268.5L190.9,273.8M204.4,282.2L216.6,266.6M211.7,268.6L216.6,266.6L215.9,271.9M226.2,281.0Q231.0,271.6 240.8,267.8M235.6,267.0L240.8,267.8L237.5,271.9M250.6,277.8L262.4,271.0M257.1,271.0L262.4,271.0L259.8,275.6M274.7,279.1L284.3,269.7M279.2,271.0L284.3,269.7L282.9,274.8M295.9,278.3L309.1,270.5M303.8,270.6L309.1,270.5L306.5,275.1M328.3,276.9L322.7,271.9M323.7,274.9L322.7,271.9L325.8,272.5M349.2,281.0L347.8,267.8M345.6,272.7L347.8,267.8L350.9,272.1M369.8,284.2L373.2,264.6M369.8,268.7L373.2,264.6L375.0,269.6M392.6,285.2Q396.7,274.8 396.4,263.6M393.9,268.2L396.4,263.6L399.2,268.1M415.6,285.2L419.4,263.6M416.0,267.6L419.4,263.6L421.2,268.5M439.0,285.3L442.0,263.5M438.8,267.7L442.0,263.5L444.0,268.4M462.0,285.3L465.0,263.5M461.8,267.7L465.0,263.5L467.0,268.4M486.1,286.4L486.9,262.4M484.1,266.9L486.9,262.4L489.4,267.1M509.5,284.4L509.5,264.4M506.9,268.9L509.5,264.4L512.2,268.9M534.5,280.1L530.5,268.7M529.5,273.7L530.5,268.7L534.4,272.0M558.7,276.8L552.3,272.0M553.6,275.1L552.3,272.0L555.6,272.4M582.0,276.4L575.0,272.4M576.7,275.3L575.0,272.4L578.4,272.4M605.4,275.1L597.6,273.7M600.1,275.9L597.6,273.7L600.7,272.6M628.4,273.7L620.6,275.1M623.7,276.2L620.6,275.1L623.1,272.9M650.6,276.9L644.4,271.9M645.6,275.0L644.4,271.9L647.7,272.4M673.1,277.5L667.9,271.3M668.5,274.6L667.9,271.3L671.1,272.5M152.6,298.6L160.7,289.0M155.7,290.8L160.7,289.0L159.8,294.2M175.1,299.1L183.9,288.5M178.9,290.3L183.9,288.5L183.0,293.7M196.5,300.5L208.2,287.1M203.2,288.8L208.2,287.1L207.2,292.3M218.5,298.5L231.9,289.1M226.6,289.6L231.9,289.1L229.6,293.9M241.4,298.4Q246.2,291.2 254.7,289.2M249.6,287.7L254.7,289.2L250.8,292.8M264.3,298.5Q272.0,295.3 277.5,289.1M272.4,290.8L277.5,289.1L276.4,294.3M288.3,300.2L299.2,287.4M294.2,289.2L299.2,287.4L298.3,292.6M319.3,297.5L313.9,290.1M314.3,293.9L313.9,290.1L317.4,291.6M337.5,301.6L341.4,286.0M337.7,289.8L341.4,286.0L342.9,291.1M361.0,301.3L363.6,286.3M360.2,290.4L363.6,286.3L365.4,291.3M382.9,304.6L387.4,283.0M383.9,287.0L387.4,283.0L389.1,288.1M406.1,304.6L409.9,283.0M406.5,287.0L409.9,283.0L411.7,287.9M429.1,303.7L432.6,283.9M429.2,288.0L432.6,283.9L434.4,288.9M451.6,305.5L455.8,282.1M452.4,286.1L455.8,282.1L457.6,287.1M475.9,304.8L477.2,282.8M474.3,287.2L477.2,282.8L479.6,287.5M499.4,304.8L499.4,282.8M496.8,287.4L499.4,282.8L502.1,287.4M522.3,302.2L522.2,285.4M519.6,290.0L522.2,285.4L524.9,289.9M545.7,299.7L544.5,287.9M542.5,292.4L544.5,287.9L547.4,291.9M570.8,296.6L565.1,291.0M566.0,294.2L565.1,291.0L568.4,291.8M593.0,295.9L588.6,291.7M589.3,294.1L588.6,291.7L591.1,292.3M617.1,298.6L610.2,289.0M610.7,293.9L610.2,289.0L614.7,291.0M639.1,299.1L633.9,288.5M633.6,293.4L633.9,288.5L638.0,291.3M662.4,296.4L656.3,291.2M657.4,294.4L656.3,291.2L659.6,291.8M161.3,316.5Q163.3,312.1 167.7,309.9M163.9,309.6L167.7,309.9L165.6,313.1M182.6,319.0Q186.5,312.3 192.4,307.4M187.2,308.3L192.4,307.4L190.6,312.4M207.7,311.0L213.3,315.4M212.2,312.6L213.3,315.4L210.3,315.0M230.3,317.7L236.7,308.7M232.5,310.6L236.7,308.7L236.2,313.3M249.2,319.8L263.8,306.6M258.6,307.7L263.8,306.6L262.1,311.7M276.0,316.2L283.0,310.2M279.2,310.9L283.0,310.2L281.7,313.9M299.3,319.1L305.7,307.3M301.2,310.1L305.7,307.3L305.8,312.6M326.2,318.0L324.8,308.4M323.3,312.2L324.8,308.4L327.3,311.6M345.7,324.2Q344.3,312.1 351.3,302.2M346.5,304.4L351.3,302.2L350.8,307.5M371.4,321.8L371.6,304.6M368.9,309.2L371.6,304.6L374.2,309.2M392.9,325.0L396.1,301.4M392.9,305.6L396.1,301.4L398.1,306.3M416.0,324.1L419.0,302.3M415.8,306.5L419.0,302.3L421.0,307.2M438.0,324.9L443.0,301.5M439.4,305.4L443.0,301.5L444.6,306.5M463.1,324.2L463.9,302.2M461.1,306.7L463.9,302.2L466.4,306.9M486.5,324.2L486.5,302.2M483.9,306.8L486.5,302.2L489.2,306.8M509.5,321.8L509.5,304.6M506.9,309.2L509.5,304.6L512.1,309.2M533.3,318.2L531.7,308.2M530.2,312.2L531.7,308.2L534.4,311.5M557.8,315.2L553.2,311.2M554.0,313.6L553.2,311.2L555.7,311.7M580.2,315.1L576.8,311.3M577.3,313.6L576.8,311.3L579.1,312.1M603.6,317.7L599.4,308.7M599.0,312.9L599.4,308.7L602.8,311.1M625.0,314.7L624.0,311.7M623.5,314.1L624.0,311.7L625.8,313.3M645.8,322.9Q644.3,312.6 649.2,303.5M644.7,306.3L649.2,303.5L649.3,308.8M668.6,327.1L672.4,299.3M669.2,303.5L672.4,299.3L674.4,304.3M152.2,338.3L161.1,326.9M156.2,328.9L161.1,326.9L160.3,332.2M174.8,339.2L184.2,326.0M179.3,328.2L184.2,326.0L183.7,331.3M197.4,339.1L207.3,326.1M202.4,328.1L207.3,326.1L206.6,331.3M218.1,339.5Q227.4,334.8 232.3,325.7M227.7,328.5L232.3,325.7L232.4,331.0M245.9,333.0L250.2,332.2M248.0,331.4L250.2,332.2L248.4,333.8M267.0,334.9L274.8,330.3M271.0,330.3L274.8,330.3L272.9,333.6M289.4,335.4L298.1,329.8M293.7,330.0L298.1,329.8L296.1,333.6M316.7,336.3L316.5,328.9M315.0,331.6L316.5,328.9L318.1,331.6M340.2,336.5L338.7,328.7M337.6,331.8L338.7,328.7L340.9,331.2M361.0,336.5L363.6,328.7M361.0,331.0L363.6,328.7L364.3,332.1M384.3,342.6L386.0,322.6M383.0,326.9L386.0,322.6L388.3,327.4M406.5,343.5L409.5,321.7M406.3,325.9L409.5,321.7L411.5,326.6M429.4,342.5L432.3,322.7M429.0,326.8L432.3,322.7L434.2,327.6M451.5,345.3Q458.7,333.5 455.9,319.9M454.3,325.0L455.9,319.9L459.4,323.9M477.4,342.6L475.7,322.6M473.5,327.4L475.7,322.6L478.7,327.0M499.9,342.6Q502.0,332.5 498.9,322.6M497.8,327.8L498.9,322.6L502.8,326.2M523.1,342.4Q525.9,332.3 521.4,322.8M520.9,328.0L521.4,322.8L525.7,325.8M546.2,344.8L544.0,320.4M541.8,325.2L544.0,320.4L547.0,324.7M571.5,345.8L564.4,319.4M563.0,324.5L564.4,319.4L568.1,323.1M590.9,337.6L590.7,327.6M588.7,331.3L590.7,327.6L592.9,331.2M614.0,336.6L613.3,328.6M611.9,331.7L613.3,328.6L615.2,331.3M636.5,341.4L636.5,323.8M633.8,328.4L636.5,323.8L639.1,328.4M659.9,340.2Q660.6,332.5 658.8,325.0M657.3,330.1L658.8,325.0L662.4,328.9M161.1,357.8L167.9,346.2M163.3,348.8L167.9,346.2L167.9,351.5M184.1,357.8L190.9,346.2M186.3,348.8L190.9,346.2L190.9,351.5M205.3,357.7L215.7,346.3M210.6,347.9L215.7,346.3L214.6,351.5M225.7,358.0L241.3,346.0M236.0,346.7L241.3,346.0L239.3,350.9M250.9,355.9Q257.3,353.2 262.1,348.1M257.0,349.6L262.1,348.1L260.9,353.2M273.7,355.4L285.3,348.6M280.0,348.6L285.3,348.6L282.7,353.2M299.0,356.1L306.0,347.9M301.7,349.4L306.0,347.9L305.2,352.4M323.5,356.3Q326.7,352.6 327.5,347.7M325.0,350.8L327.5,347.7L328.9,351.4M346.2,360.3L350.8,343.7M347.0,347.4L350.8,343.7L352.1,348.8M370.7,361.0L372.3,343.0M369.3,347.4L372.3,343.0L374.5,347.9M394.1,362.0Q398.1,352.1 394.9,342.0M393.7,347.2L394.9,342.0L398.8,345.6M416.5,362.9Q414.7,351.8 418.5,341.1M414.4,344.6L418.5,341.1L419.4,346.3M439.8,360.0L441.2,344.0M438.2,348.3L441.2,344.0L443.4,348.8M462.2,359.9L464.8,344.1M461.5,348.2L464.8,344.1L466.7,349.1M488.1,359.8Q484.0,352.5 484.9,344.2M481.8,348.5L484.9,344.2L487.0,349.0M511.5,357.7L507.5,346.3M506.6,351.3L507.5,346.3L511.3,349.6M535.1,359.0L529.9,345.0M529.0,350.2L529.9,345.0L534.0,348.4M556.8,356.9L554.2,347.1M553.1,351.2L554.2,347.1L557.2,350.1M580.5,357.6L576.5,346.4M575.6,351.3L576.5,346.4L580.3,349.6M603.8,355.3L599.2,348.7M599.5,352.1L599.2,348.7L602.3,350.1M625.6,355.9L623.4,348.1M622.6,351.4L623.4,348.1L625.8,350.5M648.8,356.8L646.2,347.2M645.1,351.2L646.2,347.2L649.2,350.1M670.5,359.5L670.5,344.5M667.9,349.1L670.5,344.5L673.1,349.1M152.2,374.5Q157.7,372.9 161.1,368.3M156.9,370.1L161.1,368.3L160.6,372.8M176.0,375.6L183.0,367.2M178.7,368.8L183.0,367.2L182.2,371.7M197.5,376.4Q200.6,369.7 207.2,366.4M201.9,366.1L207.2,366.4L204.2,370.8M217.7,376.4L232.7,366.4M227.4,366.7L232.7,366.4L230.3,371.1M240.5,375.7L255.6,367.1M250.3,367.1L255.6,367.1L252.9,371.7M265.8,374.2L276.0,368.6M271.1,368.5L276.0,368.6L273.5,372.8M289.9,377.0L297.6,365.8M292.8,368.1L297.6,365.8L297.2,371.1M313.1,377.5L320.1,365.3M315.5,367.9L320.1,365.3L320.1,370.6M336.5,378.3Q337.3,370.5 342.4,364.5M337.4,366.3L342.4,364.5L341.4,369.7M361.5,380.5L363.1,362.3M360.1,366.6L363.1,362.3L365.4,367.1M384.6,381.5L385.7,361.3M382.8,365.8L385.7,361.3L388.1,366.0M408.0,382.5L408.0,360.3M405.4,364.9L408.0,360.3L410.6,364.9M430.8,383.9Q427.0,371.4 430.9,358.9M427.0,362.5L430.9,358.9L432.0,364.1M452.6,379.6L454.8,363.2M451.5,367.4L454.8,363.2L456.8,368.1M475.6,382.3L477.5,360.5M474.5,364.8L477.5,360.5L479.7,365.3M500.2,380.3Q496.4,371.7 498.6,362.5M495.0,366.3L498.6,362.5L500.1,367.6M523.9,375.2L520.6,367.6M520.2,371.1L520.6,367.6L523.4,369.7M547.6,374.6L542.6,368.2M543.1,371.6L542.6,368.2L545.7,369.5M571.3,373.5L564.6,369.3M566.2,372.3L564.6,369.3L567.9,369.4M594.0,373.8Q591.3,370.7 587.6,369.0M589.5,371.7L587.6,369.0L591.0,368.7M616.6,376.6Q614.8,370.8 610.7,366.2M611.7,371.1L610.7,366.2L615.5,367.8M639.0,374.6L634.0,368.2M634.5,371.6L634.0,368.2L637.1,369.5M661.0,376.1L657.7,366.7M656.9,370.8L657.7,366.7L660.9,369.4M161.0,394.9L168.0,386.7M163.7,388.2L168.0,386.7L167.2,391.2M184.6,394.3L190.4,387.3M186.8,388.6L190.4,387.3L189.7,391.1M203.7,394.4L217.3,387.2M212.0,387.0L217.3,387.2L214.5,391.7M224.2,394.2Q234.7,394.0 242.8,387.4M237.5,388.2L242.8,387.4L240.9,392.4M248.3,394.6L264.7,387.0M259.4,386.5L264.7,387.0L261.6,391.3M273.6,394.2L285.4,387.4M280.1,387.4L285.4,387.4L282.7,392.0M296.9,397.8Q300.8,389.5 308.1,383.8M302.8,384.5L308.1,383.8L306.1,388.7M318.8,400.5L332.2,381.1M327.4,383.4L332.2,381.1L331.8,386.4M342.0,402.8L355.0,378.8M350.5,381.6L355.0,378.8L355.1,384.1M368.5,404.5L374.5,377.1M370.9,381.1L374.5,377.1L376.1,382.2M394.4,404.8Q396.9,390.8 394.6,376.8M392.7,381.8L394.6,376.8L397.9,380.9M417.5,405.3L417.5,376.3M414.9,380.9L417.5,376.3L420.1,380.9M439.6,401.3L441.4,380.3M438.4,384.6L441.4,380.3L443.6,385.0M462.0,401.7L465.0,379.9M461.8,384.1L465.0,379.9L467.0,384.8M485.0,401.7L488.0,379.9M484.8,384.1L488.0,379.9L490.0,384.8M509.5,399.4L509.5,382.2M506.9,386.8L509.5,382.2L512.2,386.8M532.5,400.8L532.5,380.8M529.9,385.4L532.5,380.8L535.1,385.4M556.3,396.8L554.7,384.8M552.7,389.5L554.7,384.8L557.8,388.8M579.2,394.9L577.8,386.7M576.6,390.0L577.8,386.7L580.0,389.4M602.0,396.7Q600.1,390.9 601.0,384.9M597.9,388.8L601.0,384.9L602.8,389.5M624.5,396.8Q625.5,390.8 624.5,384.8M622.7,389.5L624.5,384.8L627.7,388.7M648.0,396.8L647.0,384.8M644.8,389.4L647.0,384.8L649.9,389.0M671.3,396.7L669.7,384.9M667.8,389.5L669.7,384.9L672.8,388.8M152.8,414.0L160.5,406.4M156.1,407.6L160.5,406.4L159.3,410.8M175.4,413.9L183.6,406.5M179.0,407.5L183.6,406.5L182.2,410.9M195.2,412.8L209.5,407.6M204.3,406.7L209.5,407.6L206.1,411.6M220.5,411.7L229.9,408.7M225.9,407.8L229.9,408.7L227.1,411.8M241.4,413.8L254.7,406.6M249.4,406.4L254.7,406.6L251.9,411.1M268.6,415.1L273.2,405.3M269.5,407.9L273.2,405.3L273.6,409.8M290.7,416.3L296.8,404.1M292.4,407.0L296.8,404.1L297.1,409.4M311.0,417.4Q319.4,412.4 322.2,403.0M318.3,406.7L322.2,403.0L323.4,408.2M335.8,417.0Q342.0,411.6 343.1,403.4M339.9,407.6L343.1,403.4L345.1,408.4M356.3,420.6L368.3,399.8M363.7,402.5L368.3,399.8L368.3,405.1M383.0,422.0L387.3,398.4M383.8,402.4L387.3,398.4L389.1,403.4M407.9,421.2L408.1,399.2M405.4,403.8L408.1,399.2L410.7,403.8M430.3,421.2L431.4,399.2M428.6,403.6L431.4,399.2L433.8,403.9M452.8,421.2Q449.4,409.8 454.6,399.2M450.2,402.2L454.6,399.2L455.0,404.5M476.0,421.2L477.1,399.2M474.2,403.7L477.1,399.2L479.5,403.9M499.4,420.2L499.4,400.2M496.8,404.8L499.4,400.2L502.1,404.8M522.2,418.8L522.3,401.6M519.6,406.2L522.3,401.6L524.9,406.2M545.5,418.3L544.7,402.1M542.3,406.9L544.7,402.1L547.6,406.6M568.3,417.8L567.6,402.6M565.2,407.4L567.6,402.6L570.4,407.1M591.2,417.7Q592.0,410.1 590.4,402.7M588.8,407.7L590.4,402.7L594.0,406.6M613.7,417.7L613.6,402.7M611.0,407.3L613.6,402.7L616.3,407.3M637.2,418.1L635.8,402.3M633.6,407.1L635.8,402.3L638.8,406.6M660.0,417.6Q656.9,410.4 658.7,402.8M655.1,406.6L658.7,402.8L660.2,407.9M160.1,432.7L168.9,426.5M164.4,426.9L168.9,426.5L167.0,430.6M181.7,433.0L193.3,426.2M188.0,426.2L193.3,426.2L190.7,430.8M208.2,433.5L212.8,425.7M209.5,427.6L212.8,425.7L212.8,429.5M228.9,432.3L238.1,426.9M233.6,426.9L238.1,426.9L235.9,430.8M253.9,434.3L259.1,424.9M255.2,427.2L259.1,424.9L259.2,429.4M277.2,434.5L281.8,424.7M278.1,427.3L281.8,424.7L282.2,429.2M299.4,434.1L305.6,425.1M301.5,427.1L305.6,425.1L305.2,429.7M318.2,433.9L332.8,425.3M327.5,425.3L332.8,425.3L330.2,429.9M342.2,438.2L354.8,421.0M349.9,423.2L354.8,421.0L354.2,426.3M367.0,440.7Q369.6,428.8 376.0,418.5M371.4,421.0L376.0,418.5L375.8,423.8M392.0,441.3L397.0,417.9M393.5,421.8L397.0,417.9L398.7,422.9M415.8,441.5L419.2,417.7M415.9,421.9L419.2,417.7L421.2,422.6M439.4,441.6Q443.7,429.9 441.6,417.6M439.7,422.6L441.6,417.6L444.9,421.7M463.5,440.6L463.5,418.6M460.9,423.2L463.5,418.6L466.2,423.2M486.5,440.6L486.5,418.6M483.9,423.2L486.5,418.6L489.1,423.2M509.0,439.6L510.0,419.6M507.1,424.0L510.0,419.6L512.4,424.3M531.6,439.6L533.4,419.6M530.3,424.0L533.4,419.6L535.6,424.4M555.5,438.6Q558.9,429.6 555.5,420.6M554.7,425.8L555.5,420.6L559.6,423.9M578.5,437.7L578.5,421.5M575.9,426.1L578.5,421.5L581.1,426.1M601.9,437.1L601.1,422.1M598.7,426.8L601.1,422.1L604.0,426.5M625.1,436.6L623.9,422.6M621.7,427.4L623.9,422.6L626.9,427.0M648.0,435.6Q649.1,429.5 647.0,423.6M646.1,428.6L647.0,423.6L650.9,426.9M671.0,435.6L670.0,423.6M667.8,428.2L670.0,423.6L672.9,427.8M152.8,451.2L160.5,446.8M156.8,446.8L160.5,446.8L158.7,450.0M174.5,452.0L184.5,446.0M179.6,446.1L184.5,446.0L182.1,450.3M197.8,452.6Q201.6,448.1 206.9,445.4M202.0,445.2L206.9,445.4L204.2,449.5M220.7,451.7L229.7,446.3M225.3,446.4L229.7,446.3L227.6,450.2M245.1,454.1L251.0,443.9M246.7,446.4L251.0,443.9L251.0,448.8M268.1,454.2L273.7,443.8M269.5,446.4L273.7,443.8L273.8,448.8M289.7,454.6L297.8,443.4M293.0,445.6L297.8,443.4L297.3,448.7M309.6,456.3L323.6,441.7M318.6,443.2L323.6,441.7L322.4,446.9M333.4,457.8L345.5,440.2M340.7,442.5L345.5,440.2L345.1,445.5M356.9,458.5L367.7,439.5M363.1,442.2L367.7,439.5L367.7,444.8M387.5,457.6L382.8,440.4M381.5,445.6L382.8,440.4L386.6,444.2M403.4,458.9L412.6,439.1M408.2,442.2L412.6,439.1L413.0,444.4M429.0,455.9Q429.6,448.7 432.7,442.1M428.4,445.1L432.7,442.1L433.1,447.4M453.0,456.1L454.4,441.9M451.3,446.2L454.4,441.9L456.6,446.7M476.5,459.0L476.6,439.0M473.9,443.6L476.6,439.0L479.2,443.6M498.9,459.0L499.9,439.0M497.0,443.4L499.9,439.0L502.3,443.7M520.9,458.9L523.6,439.1M520.3,443.3L523.6,439.1L525.6,444.0M544.6,457.6L545.6,440.4M542.7,444.8L545.6,440.4L548.0,445.1M568.3,456.1L567.6,441.9M565.2,446.6L567.6,441.9L570.5,446.4M591.2,456.0L590.4,442.0M588.0,446.7L590.4,442.0L593.3,446.5M615.1,454.9L612.2,443.1M610.8,448.0L612.2,443.1L615.7,446.8M637.6,454.9L635.4,443.1M633.7,447.8L635.4,443.1L638.7,446.9M660.2,454.9Q657.9,449.2 658.5,443.1M655.6,447.2L658.5,443.1L660.6,447.6M160.8,470.9L168.2,465.9M164.4,466.1L168.2,465.9L166.6,469.3M185.6,473.4L189.4,463.4M185.9,466.2L189.4,463.4L190.1,467.8M206.8,472.2L214.2,464.6M209.9,465.8L214.2,464.6L213.1,468.9M234.6,472.8Q234.6,468.1 232.4,464.0M232.3,467.8L232.4,464.0L235.6,466.0M253.2,473.2L259.8,463.6M255.4,465.7L259.8,463.6L259.4,468.5M276.9,473.2L282.1,463.6M278.2,466.0L282.1,463.6L282.2,468.2M300.2,473.3L304.8,463.5M301.1,466.1L304.8,463.5L305.2,468.0M321.5,475.9L329.5,460.9M325.0,463.7L329.5,460.9L329.7,466.2M342.4,478.3L354.6,458.5M349.9,461.1L354.6,458.5L354.4,463.8M368.6,477.0L374.4,459.8M370.4,463.3L374.4,459.8L375.4,465.0M397.4,471.1L391.6,465.7M392.6,468.9L391.6,465.7L394.8,466.4M413.2,479.3L421.8,457.5M417.7,460.8L421.8,457.5L422.6,462.7M438.8,480.3L442.2,456.5M438.9,460.7L442.2,456.5L444.2,461.5M463.5,479.4L463.5,457.4M460.9,462.0L463.5,457.4L466.2,462.0M486.5,479.4L486.5,457.4M483.9,462.0L486.5,457.4L489.1,462.0M509.5,478.4Q507.0,468.4 509.5,458.4M505.8,462.2L509.5,458.4L510.9,463.5M531.6,479.3L533.4,457.5M530.4,461.8L533.4,457.5L535.7,462.3M555.9,476.0L555.1,460.8M552.7,465.5L555.1,460.8L558.0,465.3M578.9,475.4L578.1,461.4M575.7,466.1L578.1,461.4L581.0,465.8M602.0,474.4L601.0,462.4M598.8,467.0L601.0,462.4L603.9,466.5M626.0,474.2L623.0,462.6M621.6,467.5L623.0,462.6L626.5,466.2M648.8,474.3Q649.4,468.0 646.2,462.5M646.3,467.6L646.2,462.5L650.6,465.0M671.0,474.4L670.0,462.4M667.8,467.0L670.0,462.4L672.9,466.6M152.6,489.7L160.7,485.9M157.0,485.6L160.7,485.9L158.6,489.0M174.8,490.6L184.2,485.0M179.6,485.1L184.2,485.0L182.0,489.0M198.0,492.5Q204.1,489.5 206.7,483.1M202.5,486.4L206.7,483.1L207.4,488.4M224.4,491.6L226.0,484.0M223.8,486.4L226.0,484.0L227.0,487.1M246.2,492.4L249.9,483.2M246.6,485.8L249.9,483.2L250.5,487.3M269.6,490.2L272.2,485.4M270.1,486.7L272.2,485.4L272.3,487.8M293.2,491.6L294.3,484.0M292.3,486.5L294.3,484.0L295.5,487.0M313.9,493.5L319.3,482.1M314.9,485.1L319.3,482.1L319.7,487.4M335.2,496.9L343.7,478.7M339.4,481.7L343.7,478.7L344.2,483.9M360.7,493.5Q360.1,487.2 363.9,482.1M359.3,484.0L363.9,482.1L363.3,487.0M380.2,496.3L390.1,479.3M385.5,481.9L390.1,479.3L390.1,484.6M409.6,491.5L406.4,484.1M406.0,487.5L406.4,484.1L409.1,486.1M429.5,497.7L432.2,477.9M429.0,482.1L432.2,477.9L434.2,482.8M452.9,496.8L454.5,478.8M451.5,483.1L454.5,478.8L456.7,483.6M476.5,496.7L476.6,478.9M473.9,483.4L476.6,478.9L479.2,483.4M499.4,496.7Q497.5,487.8 499.4,478.8M495.8,482.8L499.4,478.8L501.0,483.9M521.8,496.8L522.7,478.8M519.8,483.2L522.7,478.8L525.1,483.5M545.1,495.8L545.1,479.8M542.5,484.4L545.1,479.8L547.8,484.4M568.9,493.9L567.0,481.7M565.1,486.5L567.0,481.7L570.2,485.7M591.2,494.7Q592.8,487.7 590.4,480.9M589.4,486.1L590.4,480.9L594.4,484.3M615.2,493.6L612.1,482.0M610.8,486.8L612.1,482.0L615.7,485.6M639.0,494.8L634.0,480.8M633.1,486.0L634.0,480.8L638.0,484.2M660.6,493.7Q661.0,487.4 658.1,481.9M657.9,487.0L658.1,481.9L662.4,484.6M160.4,509.1L168.6,505.3M164.8,505.0L168.6,505.3L166.4,508.4M183.4,510.6L191.6,503.8M187.2,504.5L191.6,503.8L190.1,508.0M208.2,512.1L212.8,502.3M209.1,504.9L212.8,502.3L213.2,506.8M230.1,511.9L236.9,502.5M232.5,504.5L236.9,502.5L236.4,507.3M253.1,506.1L259.9,508.3M257.9,506.1L259.9,508.3L257.0,508.9M279.4,510.7L279.6,503.7M278.1,506.2L279.6,503.7L281.0,506.3M296.9,515.2L308.1,499.2M303.3,501.4L308.1,499.2L307.6,504.4M322.1,513.4L328.9,501.0M324.4,503.8L328.9,501.0L329.0,506.3M341.9,511.3L355.1,503.1M349.8,503.3L355.1,503.1L352.6,507.8M367.6,510.4L375.4,504.0M371.2,504.7L375.4,504.0L373.9,508.0M389.9,511.0L399.1,503.4M394.1,504.2L399.1,503.4L397.4,508.1M416.6,516.1L418.4,498.3M415.3,502.7L418.4,498.3L420.6,503.2M440.0,517.2L441.0,497.2M438.1,501.7L441.0,497.2L443.4,502.0M463.5,514.3L463.5,500.1M460.9,504.7L463.5,500.1L466.2,504.7M486.5,514.2L486.5,500.2M483.9,504.8L486.5,500.2L489.1,504.8M509.5,517.1L509.5,497.3M506.9,501.9L509.5,497.3L512.1,501.9M532.5,515.2Q535.5,507.2 532.5,499.2M531.6,504.4L532.5,499.2L536.6,502.5M556.1,514.2L554.9,500.2M552.7,505.0L554.9,500.2L557.9,504.6M579.0,513.2Q576.6,507.4 578.0,501.2M574.5,504.9L578.0,501.2L579.5,506.0M603.0,513.0L600.0,501.4M598.6,506.3L600.0,501.4L603.5,505.0M626.9,513.8L622.1,500.6M621.2,505.9L622.1,500.6L626.2,504.1M649.9,513.8Q649.7,506.4 645.1,500.6M645.9,505.9L645.1,500.6L650.0,502.6M671.8,512.0L669.2,502.4M668.1,506.4L669.2,502.4L672.2,505.3M153.1,527.2L160.2,526.0M157.4,524.9L160.2,526.0L157.9,527.9M174.7,528.6Q180.2,528.2 184.3,524.6M180.0,525.5L184.3,524.6L182.9,528.7M200.1,530.6L204.6,522.6M201.3,524.6L204.6,522.6L204.6,526.4M221.9,530.7L228.5,522.5M224.4,524.1L228.5,522.5L227.8,526.9M247.7,528.3L248.4,524.9M246.8,526.7L248.4,524.9L249.2,527.2M268.7,530.5L273.1,522.7M269.9,524.6L273.1,522.7L273.1,526.5M292.1,530.5L295.4,522.7M292.6,524.8L295.4,522.7L295.8,526.3M313.2,527.7L320.0,525.5M317.1,524.9L320.0,525.5L318.0,527.7M337.2,526.5L341.7,526.7M339.7,525.4L341.7,526.7L339.5,527.8M355.5,532.4L369.1,520.8M363.8,521.8L369.1,520.8L367.3,525.8M383.0,534.8L387.3,518.4M383.6,522.1L387.3,518.4L388.7,523.5M406.5,537.5L409.5,515.7M406.2,519.9L409.5,515.7L411.5,520.7M430.9,535.6L430.9,517.6M428.2,522.2L430.9,517.6L433.5,522.2M453.7,535.6L453.7,517.6M451.1,522.2L453.7,517.6L456.3,522.2M476.6,535.6L476.6,517.6M473.9,522.2L476.6,517.6L479.2,522.2M499.4,534.6L499.4,518.6M496.8,523.2L499.4,518.6L502.0,523.2M522.8,533.6L521.7,519.6M519.4,524.4L521.7,519.6L524.7,524.0M545.9,532.6L544.3,520.6M542.4,525.3L544.3,520.6L547.4,524.6M568.5,532.6Q569.0,526.5 567.4,520.6M566.1,525.5L567.4,520.6L571.0,524.2M591.3,532.6Q589.2,526.7 590.3,520.6M587.1,524.5L590.3,520.6L592.0,525.3M615.2,532.4L612.1,520.8M610.8,525.7L612.1,520.8L615.7,524.4M637.4,531.6L635.6,521.6M634.2,525.6L635.6,521.6L638.3,524.9M660.2,531.5L658.5,521.7M657.0,525.6L658.5,521.7L661.2,524.9M163.8,549.4L165.2,542.6M163.3,544.8L165.2,542.6L166.1,545.4M186.6,549.5L188.4,542.5M186.3,544.7L188.4,542.5L189.2,545.4M209.8,549.5L211.2,542.5M209.2,544.8L211.2,542.5L212.2,545.3M230.9,549.7Q232.6,545.4 236.1,542.3M232.4,543.1L236.1,542.3L234.9,545.9M253.6,549.5L259.4,542.5M255.8,543.8L259.4,542.5L258.7,546.3M276.9,549.7L282.1,542.3M278.7,543.9L282.1,542.3L281.8,546.1M299.4,544.3L305.6,547.7M304.1,545.1L305.6,547.7L302.6,547.8M322.9,545.0L328.1,547.0M326.6,545.1L328.1,547.0L325.8,547.4M346.6,545.3L350.4,546.7M348.9,544.9L350.4,546.7L348.0,547.1M369.9,551.6L373.1,540.4M369.6,543.8L373.1,540.4L374.3,545.1M393.6,555.9L395.4,536.1M392.3,540.5L395.4,536.1L397.6,540.9M417.5,555.0L417.5,537.0M414.9,541.6L417.5,537.0L420.2,541.6M440.5,555.0Q438.9,546.0 440.5,537.0M437.1,541.1L440.5,537.0L442.3,542.0M463.5,555.0Q467.0,546.0 463.5,537.0M462.7,542.2L463.5,537.0L467.6,540.3M486.5,555.0Q484.2,546.0 486.5,537.0M482.8,540.8L486.5,537.0L488.0,542.1M510.1,553.0L508.9,539.0M506.7,543.8L508.9,539.0L511.9,543.3M533.5,551.9L531.5,540.1M529.7,544.8L531.5,540.1L534.7,543.9M556.3,551.9L554.7,540.1M552.8,544.7L554.7,540.1L557.8,544.0M579.5,551.9Q579.7,545.8 577.5,540.1M576.7,545.1L577.5,540.1L581.4,543.2M603.0,551.8L600.0,540.2M598.6,545.1L600.0,540.2L603.5,543.8M626.2,550.7L622.8,541.3M622.1,545.4L622.8,541.3L626.0,544.0M649.5,551.6L645.5,540.4M644.6,545.3L645.5,540.4L649.3,543.6M672.6,551.6L668.4,540.4M667.6,545.3L668.4,540.4L672.3,543.6M156.6,567.2L156.6,563.6M155.4,565.7L156.6,563.6L157.8,565.7M178.4,568.8L180.6,562.0M178.4,564.0L180.6,562.0L181.2,564.9M201.9,569.0L202.8,561.8M201.0,564.2L202.8,561.8L204.0,564.6M223.3,569.3L227.1,561.5M224.1,563.5L227.1,561.5L227.3,565.1M246.0,568.5L250.1,562.3M247.3,563.7L250.1,562.3L249.9,565.4M267.1,567.9L274.7,562.9M270.9,563.1L274.7,562.9L273.0,566.3M290.0,569.4L297.5,561.4M293.1,562.7L297.5,561.4L296.4,565.9M313.8,571.7L319.4,559.1M315.1,562.2L319.4,559.1L320.0,564.3M338.5,574.8Q336.3,565.1 340.4,556.0M336.1,559.1L340.4,556.0L340.9,561.3M361.9,573.3L362.7,557.5M359.8,562.0L362.7,557.5L365.1,562.2M385.7,572.3L384.6,558.5M382.3,563.3L384.6,558.5L387.6,562.8M408.3,572.4L407.7,558.4M405.2,563.2L407.7,558.4L410.5,562.9M430.8,572.4L430.9,558.4M428.2,563.0L430.9,558.4L433.5,563.0M453.3,573.3L454.1,557.5M451.2,562.0L454.1,557.5L456.5,562.2M477.0,573.3L476.1,557.5M473.7,562.2L476.1,557.5L479.0,561.9M499.4,572.8L499.4,558.0M496.7,562.6L499.4,558.0L502.0,562.5M524.6,572.0L519.9,558.8M519.0,564.1L519.9,558.8L524.0,562.3M546.0,571.3L544.2,559.5M542.4,564.2L544.2,559.5L547.4,563.4M568.5,571.3Q567.0,565.5 567.4,559.5M564.6,563.6L567.4,559.5L569.6,564.0M591.8,571.3L589.8,559.5M588.1,564.2L589.8,559.5L593.0,563.4M615.2,571.2L612.1,559.6M610.8,564.5L612.1,559.6L615.7,563.2M637.8,570.3L635.2,560.5M634.1,564.6L635.2,560.5L638.2,563.5M661.4,569.9L657.3,560.9M656.9,565.0L657.3,560.9L660.7,563.3M163.6,588.2L165.4,581.4M163.3,583.5L165.4,581.4L166.2,584.2M189.2,587.9L185.8,581.7M185.7,584.7L185.8,581.7L188.3,583.2M210.0,587.4L211.0,582.2M209.4,584.0L211.0,582.2L211.8,584.5M230.9,585.4L236.1,584.2M233.9,583.5L236.1,584.2L234.4,585.8M254.6,589.8L258.4,579.8M254.9,582.7L258.4,579.8L259.1,584.2M278.7,593.7L280.3,575.9M277.3,580.2L280.3,575.9L282.5,580.7M299.1,589.1L305.9,580.5M301.6,582.2L305.9,580.5L305.2,585.1M322.9,585.5L328.1,584.1M325.8,583.5L328.1,584.1L326.4,585.8M352.4,584.9L344.6,584.7M347.4,586.4L344.6,584.7L347.5,583.2M372.9,588.5L370.1,581.1M369.6,584.4L370.1,581.1L372.7,583.2M394.2,590.7L394.8,578.9M392.1,583.1L394.8,578.9L397.1,583.3M417.0,590.8L418.0,578.8M415.1,583.0L418.0,578.8L420.2,583.4M440.5,590.8L440.5,578.8M438.0,583.2L440.5,578.8L443.0,583.2M464.8,589.7L462.2,579.9M461.1,584.0L462.2,579.9L465.2,582.9M487.0,589.8L486.0,579.8M484.3,583.6L486.0,579.8L488.5,583.3M510.2,589.8Q508.2,585.0 508.8,579.8M506.3,583.2L508.8,579.8L510.5,583.7M533.4,589.7Q533.4,584.6 531.6,579.9M530.9,584.0L531.6,579.9L534.8,582.6M556.4,589.7Q556.5,584.6 554.6,579.9M554.0,584.0L554.6,579.9L557.9,582.5M579.4,589.7L577.6,579.9M576.2,583.8L577.6,579.9L580.3,583.1M602.8,589.6Q600.4,585.1 600.2,580.0M598.3,583.7L600.2,580.0L602.5,583.5M625.8,589.6Q623.2,585.1 623.2,580.0M621.1,583.6L623.2,580.0L625.3,583.6M648.5,588.7L646.5,580.9M645.6,584.2L646.5,580.9L648.8,583.3M672.5,588.3L668.5,581.3M668.5,584.7L668.5,581.3L671.4,583.0M156.6,606.0L156.6,602.4M155.4,604.5L156.6,602.4L157.8,604.5M178.3,604.3L180.7,604.1M178.5,603.1L180.7,604.1L178.7,605.5M203.8,605.9L200.9,602.5M201.4,604.9L200.9,602.5L203.1,603.3M226.8,605.5L223.6,602.9M224.4,605.1L223.6,602.9L226.0,603.3M247.6,607.0L248.5,601.4M247.0,603.3L248.5,601.4L249.3,603.7M270.8,607.7L271.0,600.7M269.4,603.2L271.0,600.7L272.4,603.3M291.9,606.2L295.6,602.2M293.3,602.9L295.6,602.2L295.1,604.6M313.5,604.9L319.7,603.5M317.1,602.7L319.7,603.5L317.7,605.3M343.7,605.8L335.2,602.6M337.6,605.6L335.2,602.6L339.0,602.0M364.4,606.6L360.2,601.8M360.7,604.4L360.2,601.8L362.8,602.6M385.1,610.7L385.1,597.7M382.5,602.3L385.1,597.7L387.8,602.3M408.0,611.2L408.0,597.2M405.4,601.8L408.0,597.2L410.6,601.8M430.9,611.2L430.9,597.2M428.2,601.8L430.9,597.2L433.5,601.8M453.7,611.2L453.7,597.2M451.1,601.8L453.7,597.2L456.3,601.8M476.6,611.2L476.6,597.2M473.9,601.8L476.6,597.2L479.2,601.8M499.4,610.7L499.4,597.7M496.8,602.3L499.4,597.7L502.0,602.3M522.8,610.7L521.7,597.7M519.4,602.5L521.7,597.7L524.7,602.1M546.1,610.1L544.1,598.3M542.3,603.0L544.1,598.3L547.3,602.2M569.0,610.1L566.9,598.3M565.2,603.0L566.9,598.3L570.1,602.2M591.8,610.1L589.8,598.3M588.0,603.0L589.8,598.3L593.0,602.2M615.2,610.0Q616.0,603.6 612.1,598.4M612.7,603.4L612.1,598.4L616.7,600.4M637.8,609.1L635.2,599.3M634.1,603.4L635.2,599.3L638.2,602.3M661.0,608.9L657.7,599.5M656.9,603.6L657.7,599.5L660.9,602.2"/>
<line x1="155.4" y1="104.5" x2="169.4" y2="104.5" stroke="#000" stroke-width="1.5"/>
<line x1="683.2" y1="104.5" x2="669.2" y2="104.5" stroke="#000" stroke-width="1.5"/>
<line x1="155.4" y1="235.8" x2="169.4" y2="235.8" stroke="#000" stroke-width="1.5"/>
<line x1="683.2" y1="235.8" x2="669.2" y2="235.8" stroke="#000" stroke-width="1.5"/>
<line x1="155.4" y1="366.7" x2="169.4" y2="366.7" stroke="#000" stroke-width="1.5"/>
<line x1="683.2" y1="366.7" x2="669.2" y2="366.7" stroke="#000" stroke-width="1.5"/>
<line x1="155.4" y1="498" x2="169.4" y2="498" stroke="#000" stroke-width="1.5"/>
<line x1="683.2" y1="498" x2="669.2" y2="498" stroke="#000" stroke-width="1.5"/>
<line x1="189.2" y1="76.6" x2="189.2" y2="90.6" stroke="#000" stroke-width="1.5"/>
<line x1="291.2" y1="76.6" x2="291.2" y2="90.6" stroke="#000" stroke-width="1.5"/>
<line x1="393.2" y1="76.6" x2="393.2" y2="90.6" stroke="#000" stroke-width="1.5"/>
<line x1="496.7" y1="76.6" x2="496.7" y2="90.6" stroke="#000" stroke-width="1.5"/>
<line x1="599" y1="76.6" x2="599" y2="90.6" stroke="#000" stroke-width="1.5"/>
<line x1="164.5" y1="604.2" x2="164.5" y2="590.2" stroke="#000" stroke-width="1.5"/>
<line x1="278" y1="604.2" x2="278" y2="590.2" stroke="#000" stroke-width="1.5"/>
<line x1="391.2" y1="604.2" x2="391.2" y2="590.2" stroke="#000" stroke-width="1.5"/>
<line x1="503.8" y1="604.2" x2="503.8" y2="590.2" stroke="#000" stroke-width="1.5"/>
<line x1="617.5" y1="604.2" x2="617.5" y2="590.2" stroke="#000" stroke-width="1.5"/>
</g>
<rect x="155.4" y="76.6" width="527.8000000000001" height="527.6" fill="none" stroke="#000" stroke-width="1.2"/>
<rect x="656.9" y="76.5" width="28.9" height="39" fill="#fff" stroke="#333" stroke-width="0.9"/>
<text x="671.4" y="90.8" font-size="13.2" text-anchor="middle" fill="#000">8</text>
<g stroke="#222" stroke-width="0.8" fill="none"><line x1="660" y1="101.5" x2="682" y2="101.5"/><polyline points="677.6,99.4 682,101.5 677.6,103.6"/></g>
<text x="313.8" y="26.5" font-size="14.3" font-weight="bold" fill="#000">2023/4/4/12UTC (6LT), Tuesday</text>
<text x="313.8" y="41.3" font-size="14.3" font-weight="bold" fill="#000">FV3M0B0L2_GFS025</text>
<text x="155" y="63.2" font-size="24" fill="#000">averaged surface downward shortwave flux</text>
<text x="684.6" y="68" font-size="23.2" fill="#000" text-anchor="end">W/m**2</text>
<text x="145.5" y="240.8" font-size="14" text-anchor="end" fill="#000">36°N</text>
<text x="145.5" y="502.8" font-size="14" text-anchor="end" fill="#000">32°N</text>
<text x="164.5" y="625.2" font-size="14" text-anchor="middle" fill="#000">102°W</text>
<text x="391" y="625" font-size="14" text-anchor="middle" fill="#000">98°W</text>
<text x="617.3" y="625" font-size="14" text-anchor="middle" fill="#000">94°W</text>
<text x="213" y="620" font-size="14.3" fill="#000">Min= .0 Max= .2697</text>
<rect x="163.20" y="629.0" width="36.6" height="13.5" fill="#0000ff" stroke="#000" stroke-width="0.7"/>
<rect x="199.80" y="629.0" width="36.6" height="13.5" fill="#0078ff" stroke="#000" stroke-width="0.7"/>
<rect x="236.40" y="629.0" width="36.6" height="13.5" fill="#00f0ff" stroke="#000" stroke-width="0.7"/>
<rect x="273.00" y="629.0" width="36.6" height="13.5" fill="#00e4a0" stroke="#000" stroke-width="0.7"/>
<rect x="309.60" y="629.0" width="36.6" height="13.5" fill="#00bc30" stroke="#000" stroke-width="0.7"/>
<rect x="346.20" y="629.0" width="36.6" height="13.5" fill="#58cc10" stroke="#000" stroke-width="0.7"/>
<rect x="382.80" y="629.0" width="36.6" height="13.5" fill="#c8ec08" stroke="#000" stroke-width="0.7"/>
<rect x="419.40" y="629.0" width="36.6" height="13.5" fill="#fff000" stroke="#000" stroke-width="0.7"/>
<rect x="456.00" y="629.0" width="36.6" height="13.5" fill="#ffc000" stroke="#000" stroke-width="0.7"/>
<rect x="492.60" y="629.0" width="36.6" height="13.5" fill="#ff9000" stroke="#000" stroke-width="0.7"/>
<rect x="529.20" y="629.0" width="36.6" height="13.5" fill="#ff4000" stroke="#000" stroke-width="0.7"/>
<rect x="565.80" y="629.0" width="36.6" height="13.5" fill="#f40008" stroke="#000" stroke-width="0.7"/>
<rect x="602.40" y="629.0" width="36.6" height="13.5" fill="#a00048" stroke="#000" stroke-width="0.7"/>
<rect x="639.00" y="629.0" width="36.6" height="13.5" fill="#580090" stroke="#000" stroke-width="0.7"/>
<text x="199.80" y="657.2" font-size="14" text-anchor="middle" fill="#000">0.02</text>
<text x="273.00" y="657.2" font-size="14" text-anchor="middle" fill="#000">0.06</text>
<text x="346.20" y="657.2" font-size="14" text-anchor="middle" fill="#000">0.1</text>
<text x="419.40" y="657.2" font-size="14" text-anchor="middle" fill="#000">0.14</text>
<text x="492.60" y="657.2" font-size="14" text-anchor="middle" fill="#000">0.18</text>
<text x="565.80" y="657.2" font-size="14" text-anchor="middle" fill="#000">0.22</text>
<text x="639.00" y="657.2" font-size="14" text-anchor="middle" fill="#000">0.26</text>
</svg>
</body></html>
